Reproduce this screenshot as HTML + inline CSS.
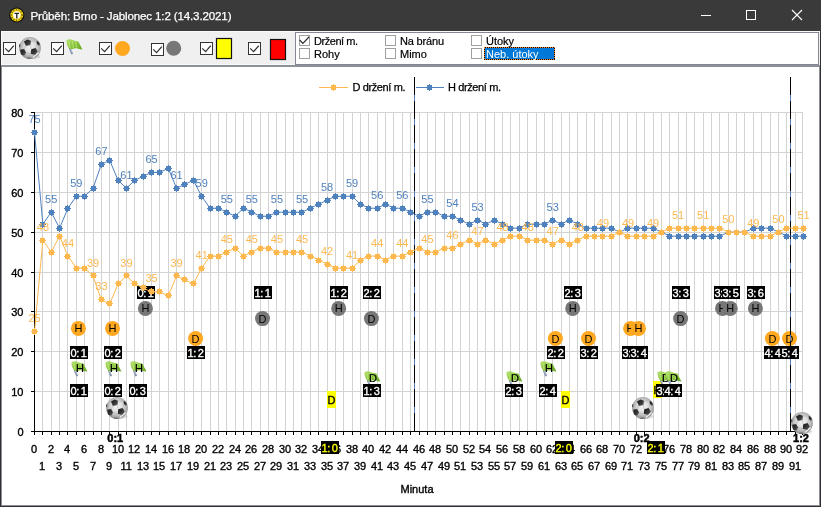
<!DOCTYPE html><html><head><meta charset="utf-8"><title>Průběh</title><style>
html,body{margin:0;padding:0;width:821px;height:507px;overflow:hidden;background:#fff}
svg{display:block} text{font-family:'Liberation Sans',Arial,sans-serif}
</style></head><body>
<svg width="821" height="507" viewBox="0 0 821 507">
<defs>
<radialGradient id="bg" cx="0.5" cy="0.45" r="0.6">
<stop offset="0" stop-color="#f4f4f4"/><stop offset="0.45" stop-color="#dcdcdc"/><stop offset="0.8" stop-color="#a4a4a4"/><stop offset="1" stop-color="#767676"/></radialGradient>
<linearGradient id="pg" x1="0" y1="0" x2="1" y2="1"><stop offset="0" stop-color="#141414"/><stop offset="0.6" stop-color="#3a3a3a"/><stop offset="1" stop-color="#6a6a6a"/></linearGradient>
<linearGradient id="fg" x1="0" y1="0" x2="1" y2="1">
<stop offset="0" stop-color="#b4e070"/><stop offset="0.5" stop-color="#8cc640"/><stop offset="1" stop-color="#66a424"/></linearGradient>
<symbol id="ball" viewBox="0 0 22 22" overflow="visible">
<ellipse cx="13.5" cy="19.5" rx="8" ry="2.6" fill="#000" opacity="0.13"/>
<circle cx="11" cy="11" r="10.9" fill="url(#bg)"/>
<path d="M5 4.6 L8.5 2.4 L12 3.8 L11.4 7.9 L6.9 8.9 Z" fill="url(#pg)"/>
<path d="M17.6 4.1 L19.9 4.9 L21.2 7.8 L19.6 8.8 L17.9 7.1 Z" fill="url(#pg)"/>
<path d="M12.2 12.2 L16.7 10.9 L18.7 14.5 L16.3 18.1 L11.8 16.8 Z" fill="url(#pg)"/>
<path d="M1.2 12.8 L5.1 12.1 L7.1 15.5 L5.2 18.8 L2 17.4 Z" fill="url(#pg)"/>
<path d="M0.1 7.4 L1.3 7.1 L1.3 10 L0.1 10.3 Z" fill="#4a4a4a"/>
<path d="M7.6 20.6 L11.6 20.4 L12.2 21.8 L8.2 21.7 Z" fill="#6a6a6a"/>
<path d="M11.1 7.6 L12.4 12.4 M7 8.5 L5 12.3 M11.7 3.9 L17.6 4.1 M17.9 7.1 L16.5 11.2 M12 16.6 L7.6 20.6 M6.9 15.5 L12 16.6 M16.1 17.8 L15.6 21" stroke="#b0b0b0" stroke-width="0.6" fill="none"/>
<path d="M13.8 20.6 L19.6 15.6" stroke="#ffffff" stroke-width="1.1" opacity="0.9"/>
</symbol>
<symbol id="flag" viewBox="0 0 17 16" overflow="visible">
<path d="M3.9 9.6 L5.9 14.4" stroke="#7a88a8" stroke-width="1.9" stroke-linecap="round"/>
<path d="M4.2 10 L5.8 13.6" stroke="#d8dff0" stroke-width="0.6"/>
<path d="M0.4 1.8 C1.2 0.2 4.2 -0.2 7.2 1.2 C9 2 10.8 2.2 12.4 2.4 L16.4 10.4 C14.2 10.6 12.4 9.4 10.2 9.2 C8 9.2 6 10.4 3.4 9.8 C1.6 7.6 0.4 4.6 0.4 1.8 Z" fill="url(#fg)"/>
<path d="M2.6 1.6 C3.2 4 3.6 6.4 4.2 9 M6.4 1.8 C6.8 4.2 7 6.4 7.4 9.2 M9.6 2.4 C10 4.6 10.4 6.6 11 9.2" stroke="#c9ef86" stroke-width="0.9" fill="none" opacity="0.75"/>
</symbol>
</defs>
<rect x="0" y="0" width="821" height="31" fill="#3a3a3a"/>
<circle cx="16.8" cy="15" r="7.6" fill="#0c0c0c"/><circle cx="16.8" cy="15" r="6.5" fill="#f2d60c"/>
<circle cx="16.8" cy="15" r="5.3" fill="none" stroke="#3a3000" stroke-width="1.3" stroke-dasharray="1.1 1.5" opacity="0.75"/>
<circle cx="16.8" cy="15" r="3.7" fill="#fff"/><path d="M14.5 12.7 H19.1 V14.1 H17.5 V18.4 H16.1 V14.1 H14.5 Z" fill="#2a2a2a"/>
<text x="30.5" y="20" font-size="11.6" fill="#ffffff" stroke="#fff" stroke-width="0.25" textLength="201" lengthAdjust="spacing">Průběh: Brno - Jablonec 1:2 (14.3.2021)</text>
<rect x="701" y="15" width="10" height="1" fill="#fff"/>
<rect x="746.5" y="10.5" width="9" height="9" fill="none" stroke="#fff" stroke-width="1"/>
<path d="M792 10 L802 20 M802 10 L792 20" stroke="#fff" stroke-width="1.1"/>
<rect x="0" y="31" width="821" height="35" fill="#f0f0f0"/>
<rect x="1" y="31" width="819" height="1" fill="#fbfbfb"/>
<rect x="1" y="31" width="1" height="34" fill="#fbfbfb"/>
<rect x="1" y="64" width="819" height="1" fill="#f9f9f9"/>
<rect x="3.5" y="42.5" width="12" height="12" fill="#fff" stroke="#333333" stroke-width="1"/><path d="M5.20 48.40 L8.60 51.60 L13.80 45.60" fill="none" stroke="#333" stroke-width="1.3"/>
<rect x="51.5" y="42.5" width="12" height="12" fill="#fff" stroke="#333333" stroke-width="1"/><path d="M53.20 48.40 L56.60 51.60 L61.80 45.60" fill="none" stroke="#333" stroke-width="1.3"/>
<rect x="99.5" y="42.5" width="12" height="12" fill="#fff" stroke="#333333" stroke-width="1"/><path d="M101.20 48.40 L104.60 51.60 L109.80 45.60" fill="none" stroke="#333" stroke-width="1.3"/>
<rect x="151.5" y="43.5" width="12" height="12" fill="#fff" stroke="#333333" stroke-width="1"/><path d="M153.20 49.40 L156.60 52.60 L161.80 46.60" fill="none" stroke="#333" stroke-width="1.3"/>
<rect x="200.5" y="42.5" width="12" height="12" fill="#fff" stroke="#333333" stroke-width="1"/><path d="M202.20 48.40 L205.60 51.60 L210.80 45.60" fill="none" stroke="#333" stroke-width="1.3"/>
<rect x="248.5" y="42.5" width="12" height="12" fill="#fff" stroke="#333333" stroke-width="1"/><path d="M250.20 48.40 L253.60 51.60 L258.80 45.60" fill="none" stroke="#333" stroke-width="1.3"/>
<use href="#ball" x="19" y="37" width="22" height="22"/>
<use href="#flag" x="66" y="39" width="17" height="16"/>
<circle cx="122.5" cy="48.5" r="7.5" fill="#ffa820"/>
<circle cx="173.7" cy="48.3" r="7.5" fill="#777777"/>
<rect x="216.5" y="38.5" width="15" height="20" fill="#ffff00" stroke="#111" stroke-width="1.2"/>
<rect x="270.5" y="39.5" width="15" height="20" fill="#ff0000" stroke="#111" stroke-width="1.2"/>
<rect x="295.5" y="32.5" width="523" height="32" fill="#fff" stroke="#828790" stroke-width="1"/>
<rect x="299.5" y="35.5" width="10" height="10" fill="#fff" stroke="#a0a0a0" stroke-width="1"/><path d="M299.60 40.00 L302.90 43.40 L309.20 36.80" fill="none" stroke="#333" stroke-width="1.3"/>
<text x="314" y="45" font-size="11" fill="#000" stroke="#000" stroke-width="0.2" textLength="44">Držení m.</text>
<rect x="299.5" y="48.5" width="10" height="10" fill="#fff" stroke="#a0a0a0" stroke-width="1"/>
<text x="314" y="58" font-size="11" fill="#000" stroke="#000" stroke-width="0.2">Rohy</text>
<rect x="385.5" y="35.5" width="10" height="10" fill="#fff" stroke="#a0a0a0" stroke-width="1"/>
<text x="400" y="45" font-size="11" fill="#000" stroke="#000" stroke-width="0.2" textLength="44">Na bránu</text>
<rect x="385.5" y="48.5" width="10" height="10" fill="#fff" stroke="#a0a0a0" stroke-width="1"/>
<text x="400" y="58" font-size="11" fill="#000" stroke="#000" stroke-width="0.2">Mimo</text>
<rect x="471.5" y="35.5" width="10" height="10" fill="#fff" stroke="#a0a0a0" stroke-width="1"/>
<text x="486" y="45" font-size="11" fill="#000" stroke="#000" stroke-width="0.2">Útoky</text>
<rect x="471.5" y="48.5" width="10" height="10" fill="#fff" stroke="#a0a0a0" stroke-width="1"/>
<rect x="484" y="47" width="71" height="13" fill="#0078d7"/>
<rect x="484.5" y="47.5" width="70" height="12" fill="none" stroke="#ff8a28" stroke-width="1" shape-rendering="crispEdges"/>
<rect x="484.5" y="47.5" width="70" height="12" fill="none" stroke="#000" stroke-width="1" stroke-dasharray="1 1" shape-rendering="crispEdges"/>
<text x="486" y="58" font-size="11" fill="#fff">Neb. útoky</text>
<rect x="1" y="65" width="819" height="441" fill="#8c9199"/>
<rect x="2" y="67" width="817" height="438" fill="#fff"/>
<rect x="0" y="31" width="1" height="476" fill="#2f2f2f"/>
<rect x="820" y="31" width="1" height="476" fill="#2f2f2f"/>
<rect x="0" y="506" width="821" height="1" fill="#2f2f2f"/>
<path d="M42.5 112V431 M51.5 112V431 M59.5 112V431 M67.5 112V431 M76.5 112V431 M84.5 112V431 M93.5 112V431 M101.5 112V431 M109.5 112V431 M118.5 112V431 M126.5 112V431 M134.5 112V431 M143.5 112V431 M151.5 112V431 M159.5 112V431 M168.5 112V431 M176.5 112V431 M184.5 112V431 M193.5 112V431 M201.5 112V431 M210.5 112V431 M218.5 112V431 M226.5 112V431 M235.5 112V431 M243.5 112V431 M251.5 112V431 M260.5 112V431 M268.5 112V431 M276.5 112V431 M285.5 112V431 M293.5 112V431 M301.5 112V431 M310.5 112V431 M318.5 112V431 M327.5 112V431 M335.5 112V431 M343.5 112V431 M352.5 112V431 M360.5 112V431 M368.5 112V431 M377.5 112V431 M385.5 112V431 M393.5 112V431 M402.5 112V431 M410.5 112V431 M419.5 112V431 M427.5 112V431 M435.5 112V431 M444.5 112V431 M452.5 112V431 M460.5 112V431 M469.5 112V431 M477.5 112V431 M485.5 112V431 M494.5 112V431 M502.5 112V431 M510.5 112V431 M519.5 112V431 M527.5 112V431 M536.5 112V431 M544.5 112V431 M552.5 112V431 M561.5 112V431 M569.5 112V431 M577.5 112V431 M586.5 112V431 M594.5 112V431 M602.5 112V431 M611.5 112V431 M619.5 112V431 M627.5 112V431 M636.5 112V431 M644.5 112V431 M653.5 112V431 M661.5 112V431 M669.5 112V431 M678.5 112V431 M686.5 112V431 M694.5 112V431 M703.5 112V431 M711.5 112V431 M719.5 112V431 M728.5 112V431 M736.5 112V431 M744.5 112V431 M753.5 112V431 M761.5 112V431 M770.5 112V431 M778.5 112V431 M786.5 112V431 M795.5 112V431 M802.5 112V431 M35 391.5H803 M35 351.5H803 M35 311.5H803 M35 272.5H803 M35 232.5H803 M35 192.5H803 M35 152.5H803 M35 112.5H803" stroke="#d3d3d3" stroke-width="1" fill="none" shape-rendering="crispEdges"/>
<path d="M319 87.5H348" stroke="#fdb850" stroke-width="1"/>
<path d="M416 87.5H444" stroke="#4f81bd" stroke-width="1"/>
<path d="M330.00 87.00 L331.00 87.00 L331.00 85.00 L333.00 85.00 L333.00 84.00 L334.00 84.00 L334.00 85.00 L336.00 85.00 L336.00 87.00 L337.00 87.00 L337.00 88.00 L336.00 88.00 L336.00 90.00 L334.00 90.00 L334.00 91.00 L333.00 91.00 L333.00 90.00 L331.00 90.00 L331.00 88.00 L330.00 88.00 Z" fill="#fdb850"/>
<path d="M426.00 87.00 L427.00 87.00 L427.00 85.00 L429.00 85.00 L429.00 84.00 L430.00 84.00 L430.00 85.00 L432.00 85.00 L432.00 87.00 L433.00 87.00 L433.00 88.00 L432.00 88.00 L432.00 90.00 L430.00 90.00 L430.00 91.00 L429.00 91.00 L429.00 90.00 L427.00 90.00 L427.00 88.00 L426.00 88.00 Z" fill="#4f81bd"/>
<text x="352.5" y="91" font-size="11" fill="#000" stroke="#000" stroke-width="0.25" textLength="53" lengthAdjust="spacing">D držení m.</text>
<text x="448" y="91" font-size="11" fill="#000" stroke="#000" stroke-width="0.25" textLength="53" lengthAdjust="spacing">H držení m.</text>
<rect x="327.0" y="391" width="9" height="17" fill="#ffff00"/><text x="331.5" y="404" font-size="11" fill="#000" stroke="#000" stroke-width="0.35" text-anchor="middle">D</text><rect x="561.0" y="391" width="9" height="17" fill="#ffff00"/><text x="565.5" y="404" font-size="11" fill="#000" stroke="#000" stroke-width="0.35" text-anchor="middle">D</text><rect x="653.0" y="381" width="9" height="17" fill="#ffff00"/><text x="657.5" y="394" font-size="11" fill="#000" stroke="#000" stroke-width="0.35" text-anchor="middle">H</text><circle cx="145.4" cy="308.4" r="7.5" fill="#777777"/><text x="145.4" y="312.4" font-size="11" fill="#000" text-anchor="middle">H</text><rect x="137" y="286" width="18" height="13" fill="#000"/><text x="137.6 143.2 147.8" y="297" font-size="11" fill="#fff" stroke="#fff" stroke-width="0.35">0:1</text><circle cx="262.5" cy="318.6" r="7.5" fill="#777777"/><text x="262.5" y="322.6" font-size="11" fill="#000" text-anchor="middle">D</text><rect x="254" y="286" width="18" height="13" fill="#000"/><text x="254.6 260.2 264.8" y="297" font-size="11" fill="#fff" stroke="#fff" stroke-width="0.35">1:1</text><circle cx="338.7" cy="308.4" r="7.5" fill="#777777"/><text x="338.7" y="312.4" font-size="11" fill="#000" text-anchor="middle">H</text><rect x="330" y="286" width="18" height="13" fill="#000"/><text x="330.6 336.2 340.8" y="297" font-size="11" fill="#fff" stroke="#fff" stroke-width="0.35">1:2</text><circle cx="371.4" cy="318.6" r="7.5" fill="#777777"/><text x="371.4" y="322.6" font-size="11" fill="#000" text-anchor="middle">D</text><rect x="363" y="286" width="18" height="13" fill="#000"/><text x="363.6 369.2 373.8" y="297" font-size="11" fill="#fff" stroke="#fff" stroke-width="0.35">2:2</text><circle cx="572.7" cy="308.4" r="7.5" fill="#777777"/><text x="572.7" y="312.4" font-size="11" fill="#000" text-anchor="middle">H</text><rect x="564" y="286" width="18" height="13" fill="#000"/><text x="564.6 570.2 574.8" y="297" font-size="11" fill="#fff" stroke="#fff" stroke-width="0.35">2:3</text><circle cx="680.6" cy="318.6" r="7.5" fill="#777777"/><text x="680.6" y="322.6" font-size="11" fill="#000" text-anchor="middle">D</text><rect x="672" y="286" width="18" height="13" fill="#000"/><text x="672.6 678.2 682.8" y="297" font-size="11" fill="#fff" stroke="#fff" stroke-width="0.35">3:3</text><circle cx="722.5" cy="308.4" r="7.5" fill="#777777"/><text x="722.5" y="312.4" font-size="11" fill="#000" text-anchor="middle">H</text><rect x="714" y="286" width="18" height="13" fill="#000"/><text x="714.6 720.2 724.8" y="297" font-size="11" fill="#fff" stroke="#fff" stroke-width="0.35">3:4</text><circle cx="730.3" cy="308.4" r="7.5" fill="#777777"/><text x="730.3" y="312.4" font-size="11" fill="#000" text-anchor="middle">H</text><rect x="722" y="286" width="18" height="13" fill="#000"/><text x="722.6 728.2 732.8" y="297" font-size="11" fill="#fff" stroke="#fff" stroke-width="0.35">3:5</text><circle cx="755.4" cy="308.4" r="7.5" fill="#777777"/><text x="755.4" y="312.4" font-size="11" fill="#000" text-anchor="middle">H</text><rect x="747" y="286" width="18" height="13" fill="#000"/><text x="747.6 753.2 757.8" y="297" font-size="11" fill="#fff" stroke="#fff" stroke-width="0.35">3:6</text><circle cx="78.4" cy="328.4" r="7.5" fill="#ffa820"/><text x="78.4" y="332.4" font-size="11" fill="#000" text-anchor="middle">H</text><rect x="70" y="346" width="18" height="13" fill="#000"/><text x="70.6 76.2 80.8" y="357" font-size="11" fill="#fff" stroke="#fff" stroke-width="0.35">0:1</text><circle cx="112.5" cy="328.4" r="7.5" fill="#ffa820"/><text x="112.5" y="332.4" font-size="11" fill="#000" text-anchor="middle">H</text><rect x="104" y="346" width="18" height="13" fill="#000"/><text x="104.6 110.2 114.8" y="357" font-size="11" fill="#fff" stroke="#fff" stroke-width="0.35">0:2</text><circle cx="195.6" cy="338.5" r="7.5" fill="#ffa820"/><text x="195.6" y="342.5" font-size="11" fill="#000" text-anchor="middle">D</text><rect x="187" y="346" width="18" height="13" fill="#000"/><text x="187.6 193.2 197.8" y="357" font-size="11" fill="#fff" stroke="#fff" stroke-width="0.35">1:2</text><circle cx="555.4" cy="338.5" r="7.5" fill="#ffa820"/><text x="555.4" y="342.5" font-size="11" fill="#000" text-anchor="middle">D</text><rect x="547" y="346" width="18" height="13" fill="#000"/><text x="547.6 553.2 557.8" y="357" font-size="11" fill="#fff" stroke="#fff" stroke-width="0.35">2:2</text><circle cx="588.5" cy="338.5" r="7.5" fill="#ffa820"/><text x="588.5" y="342.5" font-size="11" fill="#000" text-anchor="middle">D</text><rect x="580" y="346" width="18" height="13" fill="#000"/><text x="580.6 586.2 590.8" y="357" font-size="11" fill="#fff" stroke="#fff" stroke-width="0.35">3:2</text><circle cx="630.6" cy="328.4" r="7.5" fill="#ffa820"/><text x="630.6" y="332.4" font-size="11" fill="#000" text-anchor="middle">H</text><rect x="622" y="346" width="18" height="13" fill="#000"/><text x="622.6 628.2 632.8" y="357" font-size="11" fill="#fff" stroke="#fff" stroke-width="0.35">3:3</text><circle cx="638.5" cy="328.4" r="7.5" fill="#ffa820"/><text x="638.5" y="332.4" font-size="11" fill="#000" text-anchor="middle">H</text><rect x="630" y="346" width="18" height="13" fill="#000"/><text x="630.6 636.2 640.8" y="357" font-size="11" fill="#fff" stroke="#fff" stroke-width="0.35">3:4</text><circle cx="772.4" cy="338.5" r="7.5" fill="#ffa820"/><text x="772.4" y="342.5" font-size="11" fill="#000" text-anchor="middle">D</text><rect x="764" y="346" width="18" height="13" fill="#000"/><text x="764.6 770.2 774.8" y="357" font-size="11" fill="#fff" stroke="#fff" stroke-width="0.35">4:4</text><circle cx="789.5" cy="338.5" r="7.5" fill="#ffa820"/><text x="789.5" y="342.5" font-size="11" fill="#000" text-anchor="middle">D</text><rect x="781" y="346" width="18" height="13" fill="#000"/><text x="781.6 787.2 791.8" y="357" font-size="11" fill="#fff" stroke="#fff" stroke-width="0.35">5:4</text><use href="#flag" x="71" y="361" width="17" height="16"/><text x="80" y="371.8" font-size="11" fill="#000" stroke="#000" stroke-width="0.2" text-anchor="middle">H</text><rect x="70" y="384" width="18" height="13" fill="#000"/><text x="70.6 76.2 80.8" y="395" font-size="11" fill="#fff" stroke="#fff" stroke-width="0.35">0:1</text><use href="#flag" x="105" y="361" width="17" height="16"/><text x="114" y="371.8" font-size="11" fill="#000" stroke="#000" stroke-width="0.2" text-anchor="middle">H</text><rect x="104" y="384" width="18" height="13" fill="#000"/><text x="104.6 110.2 114.8" y="395" font-size="11" fill="#fff" stroke="#fff" stroke-width="0.35">0:2</text><use href="#flag" x="130" y="361" width="17" height="16"/><text x="139" y="371.8" font-size="11" fill="#000" stroke="#000" stroke-width="0.2" text-anchor="middle">H</text><rect x="129" y="384" width="18" height="13" fill="#000"/><text x="129.6 135.2 139.8" y="395" font-size="11" fill="#fff" stroke="#fff" stroke-width="0.35">0:3</text><use href="#flag" x="364" y="371" width="17" height="16"/><text x="373" y="381.8" font-size="11" fill="#000" stroke="#000" stroke-width="0.2" text-anchor="middle">D</text><rect x="363" y="384" width="18" height="13" fill="#000"/><text x="363.6 369.2 373.8" y="395" font-size="11" fill="#fff" stroke="#fff" stroke-width="0.35">1:3</text><use href="#flag" x="506" y="371" width="17" height="16"/><text x="515" y="381.8" font-size="11" fill="#000" stroke="#000" stroke-width="0.2" text-anchor="middle">D</text><rect x="505" y="384" width="18" height="13" fill="#000"/><text x="505.6 511.2 515.8" y="395" font-size="11" fill="#fff" stroke="#fff" stroke-width="0.35">2:3</text><use href="#flag" x="540" y="361" width="17" height="16"/><text x="549" y="371.8" font-size="11" fill="#000" stroke="#000" stroke-width="0.2" text-anchor="middle">H</text><rect x="539" y="384" width="18" height="13" fill="#000"/><text x="539.6 545.2 549.8" y="395" font-size="11" fill="#fff" stroke="#fff" stroke-width="0.35">2:4</text><use href="#flag" x="657" y="371" width="17" height="16"/><text x="666" y="381.8" font-size="11" fill="#000" stroke="#000" stroke-width="0.2" text-anchor="middle">D</text><rect x="656" y="384" width="18" height="13" fill="#000"/><text x="656.6 662.2 666.8" y="395" font-size="11" fill="#fff" stroke="#fff" stroke-width="0.35">3:4</text><use href="#flag" x="665" y="371" width="17" height="16"/><text x="674" y="381.8" font-size="11" fill="#000" stroke="#000" stroke-width="0.2" text-anchor="middle">D</text><rect x="664" y="384" width="18" height="13" fill="#000"/><text x="664.6 670.2 674.8" y="395" font-size="11" fill="#fff" stroke="#fff" stroke-width="0.35">4:4</text>
<path d="M414.5 77V431" stroke="#4f81bd" stroke-width="1" shape-rendering="crispEdges"/>
<path d="M414.5 77V431" stroke="#000" stroke-width="1" stroke-dasharray="18 6" shape-rendering="crispEdges"/>
<path d="M790.5 77V431" stroke="#4f81bd" stroke-width="1" shape-rendering="crispEdges"/>
<path d="M790.5 77V431" stroke="#000" stroke-width="1" stroke-dasharray="18 6" shape-rendering="crispEdges"/>
<path d="M31 431.5H803 M34.5 112V432 M31 431.5H34 M31 391.5H34 M31 351.5H34 M31 311.5H34 M31 272.5H34 M31 232.5H34 M31 192.5H34 M31 152.5H34 M31 112.5H34 M34.5 432V435 M42.5 432V435 M51.5 432V435 M59.5 432V435 M67.5 432V435 M76.5 432V435 M84.5 432V435 M93.5 432V435 M101.5 432V435 M109.5 432V435 M118.5 432V435 M126.5 432V435 M134.5 432V435 M143.5 432V435 M151.5 432V435 M159.5 432V435 M168.5 432V435 M176.5 432V435 M184.5 432V435 M193.5 432V435 M201.5 432V435 M210.5 432V435 M218.5 432V435 M226.5 432V435 M235.5 432V435 M243.5 432V435 M251.5 432V435 M260.5 432V435 M268.5 432V435 M276.5 432V435 M285.5 432V435 M293.5 432V435 M301.5 432V435 M310.5 432V435 M318.5 432V435 M327.5 432V435 M335.5 432V435 M343.5 432V435 M352.5 432V435 M360.5 432V435 M368.5 432V435 M377.5 432V435 M385.5 432V435 M393.5 432V435 M402.5 432V435 M410.5 432V435 M419.5 432V435 M427.5 432V435 M435.5 432V435 M444.5 432V435 M452.5 432V435 M460.5 432V435 M469.5 432V435 M477.5 432V435 M485.5 432V435 M494.5 432V435 M502.5 432V435 M510.5 432V435 M519.5 432V435 M527.5 432V435 M536.5 432V435 M544.5 432V435 M552.5 432V435 M561.5 432V435 M569.5 432V435 M577.5 432V435 M586.5 432V435 M594.5 432V435 M602.5 432V435 M611.5 432V435 M619.5 432V435 M627.5 432V435 M636.5 432V435 M644.5 432V435 M653.5 432V435 M661.5 432V435 M669.5 432V435 M678.5 432V435 M686.5 432V435 M694.5 432V435 M703.5 432V435 M711.5 432V435 M719.5 432V435 M728.5 432V435 M736.5 432V435 M744.5 432V435 M753.5 432V435 M761.5 432V435 M770.5 432V435 M778.5 432V435 M786.5 432V435 M795.5 432V435 M802.5 432V435" stroke="#000" stroke-width="1" fill="none" shape-rendering="crispEdges"/>
<text x="23.5" y="436" font-size="11" fill="#000" stroke="#000" stroke-width="0.35" text-anchor="end">0</text><text x="23.5" y="396" font-size="11" fill="#000" stroke="#000" stroke-width="0.35" text-anchor="end">10</text><text x="23.5" y="356" font-size="11" fill="#000" stroke="#000" stroke-width="0.35" text-anchor="end">20</text><text x="23.5" y="316" font-size="11" fill="#000" stroke="#000" stroke-width="0.35" text-anchor="end">30</text><text x="23.5" y="277" font-size="11" fill="#000" stroke="#000" stroke-width="0.35" text-anchor="end">40</text><text x="23.5" y="237" font-size="11" fill="#000" stroke="#000" stroke-width="0.35" text-anchor="end">50</text><text x="23.5" y="197" font-size="11" fill="#000" stroke="#000" stroke-width="0.35" text-anchor="end">60</text><text x="23.5" y="157" font-size="11" fill="#000" stroke="#000" stroke-width="0.35" text-anchor="end">70</text><text x="23.5" y="117" font-size="11" fill="#000" stroke="#000" stroke-width="0.35" text-anchor="end">80</text><text x="34.1" y="453" font-size="11" fill="#000" stroke="#000" stroke-width="0.35" text-anchor="middle">0</text><text x="42.1" y="470" font-size="11" fill="#000" stroke="#000" stroke-width="0.35" text-anchor="middle">1</text><text x="51.1" y="453" font-size="11" fill="#000" stroke="#000" stroke-width="0.35" text-anchor="middle">2</text><text x="59.1" y="470" font-size="11" fill="#000" stroke="#000" stroke-width="0.35" text-anchor="middle">3</text><text x="67.1" y="453" font-size="11" fill="#000" stroke="#000" stroke-width="0.35" text-anchor="middle">4</text><text x="76.1" y="470" font-size="11" fill="#000" stroke="#000" stroke-width="0.35" text-anchor="middle">5</text><text x="84.1" y="453" font-size="11" fill="#000" stroke="#000" stroke-width="0.35" text-anchor="middle">6</text><text x="93.1" y="470" font-size="11" fill="#000" stroke="#000" stroke-width="0.35" text-anchor="middle">7</text><text x="101.1" y="453" font-size="11" fill="#000" stroke="#000" stroke-width="0.35" text-anchor="middle">8</text><text x="109.1" y="470" font-size="11" fill="#000" stroke="#000" stroke-width="0.35" text-anchor="middle">9</text><text x="118.1" y="453" font-size="11" fill="#000" stroke="#000" stroke-width="0.35" text-anchor="middle">10</text><text x="126.1" y="470" font-size="11" fill="#000" stroke="#000" stroke-width="0.35" text-anchor="middle">11</text><text x="134.1" y="453" font-size="11" fill="#000" stroke="#000" stroke-width="0.35" text-anchor="middle">12</text><text x="143.1" y="470" font-size="11" fill="#000" stroke="#000" stroke-width="0.35" text-anchor="middle">13</text><text x="151.1" y="453" font-size="11" fill="#000" stroke="#000" stroke-width="0.35" text-anchor="middle">14</text><text x="159.1" y="470" font-size="11" fill="#000" stroke="#000" stroke-width="0.35" text-anchor="middle">15</text><text x="168.1" y="453" font-size="11" fill="#000" stroke="#000" stroke-width="0.35" text-anchor="middle">16</text><text x="176.1" y="470" font-size="11" fill="#000" stroke="#000" stroke-width="0.35" text-anchor="middle">17</text><text x="184.1" y="453" font-size="11" fill="#000" stroke="#000" stroke-width="0.35" text-anchor="middle">18</text><text x="193.1" y="470" font-size="11" fill="#000" stroke="#000" stroke-width="0.35" text-anchor="middle">19</text><text x="201.1" y="453" font-size="11" fill="#000" stroke="#000" stroke-width="0.35" text-anchor="middle">20</text><text x="210.1" y="470" font-size="11" fill="#000" stroke="#000" stroke-width="0.35" text-anchor="middle">21</text><text x="218.1" y="453" font-size="11" fill="#000" stroke="#000" stroke-width="0.35" text-anchor="middle">22</text><text x="226.1" y="470" font-size="11" fill="#000" stroke="#000" stroke-width="0.35" text-anchor="middle">23</text><text x="235.1" y="453" font-size="11" fill="#000" stroke="#000" stroke-width="0.35" text-anchor="middle">24</text><text x="243.1" y="470" font-size="11" fill="#000" stroke="#000" stroke-width="0.35" text-anchor="middle">25</text><text x="251.1" y="453" font-size="11" fill="#000" stroke="#000" stroke-width="0.35" text-anchor="middle">26</text><text x="260.1" y="470" font-size="11" fill="#000" stroke="#000" stroke-width="0.35" text-anchor="middle">27</text><text x="268.1" y="453" font-size="11" fill="#000" stroke="#000" stroke-width="0.35" text-anchor="middle">28</text><text x="276.1" y="470" font-size="11" fill="#000" stroke="#000" stroke-width="0.35" text-anchor="middle">29</text><text x="285.1" y="453" font-size="11" fill="#000" stroke="#000" stroke-width="0.35" text-anchor="middle">30</text><text x="293.1" y="470" font-size="11" fill="#000" stroke="#000" stroke-width="0.35" text-anchor="middle">31</text><text x="301.1" y="453" font-size="11" fill="#000" stroke="#000" stroke-width="0.35" text-anchor="middle">32</text><text x="310.1" y="470" font-size="11" fill="#000" stroke="#000" stroke-width="0.35" text-anchor="middle">33</text><text x="318.1" y="453" font-size="11" fill="#000" stroke="#000" stroke-width="0.35" text-anchor="middle">34</text><text x="327.1" y="470" font-size="11" fill="#000" stroke="#000" stroke-width="0.35" text-anchor="middle">35</text><text x="335.1" y="453" font-size="11" fill="#000" stroke="#000" stroke-width="0.35" text-anchor="middle">36</text><text x="343.1" y="470" font-size="11" fill="#000" stroke="#000" stroke-width="0.35" text-anchor="middle">37</text><text x="352.1" y="453" font-size="11" fill="#000" stroke="#000" stroke-width="0.35" text-anchor="middle">38</text><text x="360.1" y="470" font-size="11" fill="#000" stroke="#000" stroke-width="0.35" text-anchor="middle">39</text><text x="368.1" y="453" font-size="11" fill="#000" stroke="#000" stroke-width="0.35" text-anchor="middle">40</text><text x="377.1" y="470" font-size="11" fill="#000" stroke="#000" stroke-width="0.35" text-anchor="middle">41</text><text x="385.1" y="453" font-size="11" fill="#000" stroke="#000" stroke-width="0.35" text-anchor="middle">42</text><text x="393.1" y="470" font-size="11" fill="#000" stroke="#000" stroke-width="0.35" text-anchor="middle">43</text><text x="402.1" y="453" font-size="11" fill="#000" stroke="#000" stroke-width="0.35" text-anchor="middle">44</text><text x="410.1" y="470" font-size="11" fill="#000" stroke="#000" stroke-width="0.35" text-anchor="middle">45</text><text x="419.1" y="453" font-size="11" fill="#000" stroke="#000" stroke-width="0.35" text-anchor="middle">46</text><text x="427.1" y="470" font-size="11" fill="#000" stroke="#000" stroke-width="0.35" text-anchor="middle">47</text><text x="435.1" y="453" font-size="11" fill="#000" stroke="#000" stroke-width="0.35" text-anchor="middle">48</text><text x="444.1" y="470" font-size="11" fill="#000" stroke="#000" stroke-width="0.35" text-anchor="middle">49</text><text x="452.1" y="453" font-size="11" fill="#000" stroke="#000" stroke-width="0.35" text-anchor="middle">50</text><text x="460.1" y="470" font-size="11" fill="#000" stroke="#000" stroke-width="0.35" text-anchor="middle">51</text><text x="469.1" y="453" font-size="11" fill="#000" stroke="#000" stroke-width="0.35" text-anchor="middle">52</text><text x="477.1" y="470" font-size="11" fill="#000" stroke="#000" stroke-width="0.35" text-anchor="middle">53</text><text x="485.1" y="453" font-size="11" fill="#000" stroke="#000" stroke-width="0.35" text-anchor="middle">54</text><text x="494.1" y="470" font-size="11" fill="#000" stroke="#000" stroke-width="0.35" text-anchor="middle">55</text><text x="502.1" y="453" font-size="11" fill="#000" stroke="#000" stroke-width="0.35" text-anchor="middle">56</text><text x="510.1" y="470" font-size="11" fill="#000" stroke="#000" stroke-width="0.35" text-anchor="middle">57</text><text x="519.1" y="453" font-size="11" fill="#000" stroke="#000" stroke-width="0.35" text-anchor="middle">58</text><text x="527.1" y="470" font-size="11" fill="#000" stroke="#000" stroke-width="0.35" text-anchor="middle">59</text><text x="536.1" y="453" font-size="11" fill="#000" stroke="#000" stroke-width="0.35" text-anchor="middle">60</text><text x="544.1" y="470" font-size="11" fill="#000" stroke="#000" stroke-width="0.35" text-anchor="middle">61</text><text x="552.1" y="453" font-size="11" fill="#000" stroke="#000" stroke-width="0.35" text-anchor="middle">62</text><text x="561.1" y="470" font-size="11" fill="#000" stroke="#000" stroke-width="0.35" text-anchor="middle">63</text><text x="569.1" y="453" font-size="11" fill="#000" stroke="#000" stroke-width="0.35" text-anchor="middle">64</text><text x="577.1" y="470" font-size="11" fill="#000" stroke="#000" stroke-width="0.35" text-anchor="middle">65</text><text x="586.1" y="453" font-size="11" fill="#000" stroke="#000" stroke-width="0.35" text-anchor="middle">66</text><text x="594.1" y="470" font-size="11" fill="#000" stroke="#000" stroke-width="0.35" text-anchor="middle">67</text><text x="602.1" y="453" font-size="11" fill="#000" stroke="#000" stroke-width="0.35" text-anchor="middle">68</text><text x="611.1" y="470" font-size="11" fill="#000" stroke="#000" stroke-width="0.35" text-anchor="middle">69</text><text x="619.1" y="453" font-size="11" fill="#000" stroke="#000" stroke-width="0.35" text-anchor="middle">70</text><text x="627.1" y="470" font-size="11" fill="#000" stroke="#000" stroke-width="0.35" text-anchor="middle">71</text><text x="636.1" y="453" font-size="11" fill="#000" stroke="#000" stroke-width="0.35" text-anchor="middle">72</text><text x="644.1" y="470" font-size="11" fill="#000" stroke="#000" stroke-width="0.35" text-anchor="middle">73</text><text x="653.1" y="453" font-size="11" fill="#000" stroke="#000" stroke-width="0.35" text-anchor="middle">74</text><text x="661.1" y="470" font-size="11" fill="#000" stroke="#000" stroke-width="0.35" text-anchor="middle">75</text><text x="669.1" y="453" font-size="11" fill="#000" stroke="#000" stroke-width="0.35" text-anchor="middle">76</text><text x="678.1" y="470" font-size="11" fill="#000" stroke="#000" stroke-width="0.35" text-anchor="middle">77</text><text x="686.1" y="453" font-size="11" fill="#000" stroke="#000" stroke-width="0.35" text-anchor="middle">78</text><text x="694.1" y="470" font-size="11" fill="#000" stroke="#000" stroke-width="0.35" text-anchor="middle">79</text><text x="703.1" y="453" font-size="11" fill="#000" stroke="#000" stroke-width="0.35" text-anchor="middle">80</text><text x="711.1" y="470" font-size="11" fill="#000" stroke="#000" stroke-width="0.35" text-anchor="middle">81</text><text x="719.1" y="453" font-size="11" fill="#000" stroke="#000" stroke-width="0.35" text-anchor="middle">82</text><text x="728.1" y="470" font-size="11" fill="#000" stroke="#000" stroke-width="0.35" text-anchor="middle">83</text><text x="736.1" y="453" font-size="11" fill="#000" stroke="#000" stroke-width="0.35" text-anchor="middle">84</text><text x="744.1" y="470" font-size="11" fill="#000" stroke="#000" stroke-width="0.35" text-anchor="middle">85</text><text x="753.1" y="453" font-size="11" fill="#000" stroke="#000" stroke-width="0.35" text-anchor="middle">86</text><text x="761.1" y="470" font-size="11" fill="#000" stroke="#000" stroke-width="0.35" text-anchor="middle">87</text><text x="770.1" y="453" font-size="11" fill="#000" stroke="#000" stroke-width="0.35" text-anchor="middle">88</text><text x="778.1" y="470" font-size="11" fill="#000" stroke="#000" stroke-width="0.35" text-anchor="middle">89</text><text x="786.1" y="453" font-size="11" fill="#000" stroke="#000" stroke-width="0.35" text-anchor="middle">90</text><text x="795.1" y="470" font-size="11" fill="#000" stroke="#000" stroke-width="0.35" text-anchor="middle">91</text><text x="802.1" y="453" font-size="11" fill="#000" stroke="#000" stroke-width="0.35" text-anchor="middle">92</text>
<text x="417" y="493" font-size="11" fill="#000" stroke="#000" stroke-width="0.35" text-anchor="middle">Minuta</text>
<rect x="321" y="441" width="18" height="13" fill="#000"/><text x="321.6 327.2 331.8" y="452" font-size="11" fill="#ffff00" stroke="#ffff00" stroke-width="0.35">1:0</text>
<rect x="555" y="441" width="18" height="13" fill="#000"/><text x="555.6 561.2 565.8" y="452" font-size="11" fill="#ffff00" stroke="#ffff00" stroke-width="0.35">2:0</text>
<rect x="647" y="441" width="18" height="13" fill="#000"/><text x="647.6 653.2 657.8" y="452" font-size="11" fill="#ffff00" stroke="#ffff00" stroke-width="0.35">2:1</text>
<use href="#ball" x="106" y="397" width="22" height="22"/>
<text x="115.3" y="442" font-size="11" font-weight="bold" fill="#000" stroke="#000" stroke-width="0.5" text-anchor="middle">0:1</text>
<use href="#ball" x="632" y="397" width="22" height="22"/>
<text x="641.7" y="442" font-size="11" font-weight="bold" fill="#000" stroke="#000" stroke-width="0.5" text-anchor="middle">0:2</text>
<use href="#ball" x="791" y="412" width="22" height="22"/>
<text x="801" y="442" font-size="11" font-weight="bold" fill="#000" stroke="#000" stroke-width="0.5" text-anchor="middle">1:2</text>
<polyline points="34.50,132.44 42.86,224.15 51.22,212.19 59.58,228.14 67.93,208.20 76.29,196.24 84.65,196.24 93.01,188.26 101.37,164.34 109.73,160.35 118.09,180.29 126.45,188.26 134.80,180.29 143.16,176.30 151.52,172.31 159.88,172.31 168.24,168.32 176.60,188.26 184.96,184.28 193.32,180.29 201.67,196.24 210.03,208.20 218.39,208.20 226.75,212.19 235.11,216.18 243.47,208.20 251.83,212.19 260.18,216.18 268.54,216.18 276.90,212.19 285.26,212.19 293.62,212.19 301.98,212.19 310.34,208.20 318.70,204.21 327.05,200.23 335.41,196.24 343.77,196.24 352.13,196.24 360.49,204.21 368.85,208.20 377.21,208.20 385.57,204.21 393.92,208.20 402.28,208.20 410.64,212.19 419.00,216.18 427.36,212.19 435.72,212.19 444.08,216.18 452.44,216.18 460.79,220.16 469.15,224.15 477.51,220.16 485.87,224.15 494.23,220.16 502.59,224.15 510.95,228.14 519.30,228.14 527.66,224.15 536.02,224.15 544.38,224.15 552.74,220.16 561.10,224.15 569.46,220.16 577.82,224.15 586.17,228.14 594.53,228.14 602.89,228.14 611.25,228.14 619.61,232.12 627.97,228.14 636.33,228.14 644.69,228.14 653.04,228.14 661.40,232.12 669.76,236.11 678.12,236.11 686.48,236.11 694.84,236.11 703.20,236.11 711.55,236.11 719.91,236.11 728.27,232.12 736.63,232.12 744.99,232.12 753.35,228.14 761.71,228.14 770.07,228.14 778.42,232.12 786.78,236.11 795.14,236.11 803.50,236.11" fill="none" stroke="#4f81bd" stroke-width="1"/><path d="M31.00 132.00 L32.00 132.00 L32.00 130.00 L34.00 130.00 L34.00 129.00 L35.00 129.00 L35.00 130.00 L37.00 130.00 L37.00 132.00 L38.00 132.00 L38.00 133.00 L37.00 133.00 L37.00 135.00 L35.00 135.00 L35.00 136.00 L34.00 136.00 L34.00 135.00 L32.00 135.00 L32.00 133.00 L31.00 133.00 Z M39.00 224.00 L40.00 224.00 L40.00 222.00 L42.00 222.00 L42.00 221.00 L43.00 221.00 L43.00 222.00 L45.00 222.00 L45.00 224.00 L46.00 224.00 L46.00 225.00 L45.00 225.00 L45.00 227.00 L43.00 227.00 L43.00 228.00 L42.00 228.00 L42.00 227.00 L40.00 227.00 L40.00 225.00 L39.00 225.00 Z M48.00 212.00 L49.00 212.00 L49.00 210.00 L51.00 210.00 L51.00 209.00 L52.00 209.00 L52.00 210.00 L54.00 210.00 L54.00 212.00 L55.00 212.00 L55.00 213.00 L54.00 213.00 L54.00 215.00 L52.00 215.00 L52.00 216.00 L51.00 216.00 L51.00 215.00 L49.00 215.00 L49.00 213.00 L48.00 213.00 Z M56.00 228.00 L57.00 228.00 L57.00 226.00 L59.00 226.00 L59.00 225.00 L60.00 225.00 L60.00 226.00 L62.00 226.00 L62.00 228.00 L63.00 228.00 L63.00 229.00 L62.00 229.00 L62.00 231.00 L60.00 231.00 L60.00 232.00 L59.00 232.00 L59.00 231.00 L57.00 231.00 L57.00 229.00 L56.00 229.00 Z M64.00 208.00 L65.00 208.00 L65.00 206.00 L67.00 206.00 L67.00 205.00 L68.00 205.00 L68.00 206.00 L70.00 206.00 L70.00 208.00 L71.00 208.00 L71.00 209.00 L70.00 209.00 L70.00 211.00 L68.00 211.00 L68.00 212.00 L67.00 212.00 L67.00 211.00 L65.00 211.00 L65.00 209.00 L64.00 209.00 Z M73.00 196.00 L74.00 196.00 L74.00 194.00 L76.00 194.00 L76.00 193.00 L77.00 193.00 L77.00 194.00 L79.00 194.00 L79.00 196.00 L80.00 196.00 L80.00 197.00 L79.00 197.00 L79.00 199.00 L77.00 199.00 L77.00 200.00 L76.00 200.00 L76.00 199.00 L74.00 199.00 L74.00 197.00 L73.00 197.00 Z M81.00 196.00 L82.00 196.00 L82.00 194.00 L84.00 194.00 L84.00 193.00 L85.00 193.00 L85.00 194.00 L87.00 194.00 L87.00 196.00 L88.00 196.00 L88.00 197.00 L87.00 197.00 L87.00 199.00 L85.00 199.00 L85.00 200.00 L84.00 200.00 L84.00 199.00 L82.00 199.00 L82.00 197.00 L81.00 197.00 Z M90.00 188.00 L91.00 188.00 L91.00 186.00 L93.00 186.00 L93.00 185.00 L94.00 185.00 L94.00 186.00 L96.00 186.00 L96.00 188.00 L97.00 188.00 L97.00 189.00 L96.00 189.00 L96.00 191.00 L94.00 191.00 L94.00 192.00 L93.00 192.00 L93.00 191.00 L91.00 191.00 L91.00 189.00 L90.00 189.00 Z M98.00 164.00 L99.00 164.00 L99.00 162.00 L101.00 162.00 L101.00 161.00 L102.00 161.00 L102.00 162.00 L104.00 162.00 L104.00 164.00 L105.00 164.00 L105.00 165.00 L104.00 165.00 L104.00 167.00 L102.00 167.00 L102.00 168.00 L101.00 168.00 L101.00 167.00 L99.00 167.00 L99.00 165.00 L98.00 165.00 Z M106.00 160.00 L107.00 160.00 L107.00 158.00 L109.00 158.00 L109.00 157.00 L110.00 157.00 L110.00 158.00 L112.00 158.00 L112.00 160.00 L113.00 160.00 L113.00 161.00 L112.00 161.00 L112.00 163.00 L110.00 163.00 L110.00 164.00 L109.00 164.00 L109.00 163.00 L107.00 163.00 L107.00 161.00 L106.00 161.00 Z M115.00 180.00 L116.00 180.00 L116.00 178.00 L118.00 178.00 L118.00 177.00 L119.00 177.00 L119.00 178.00 L121.00 178.00 L121.00 180.00 L122.00 180.00 L122.00 181.00 L121.00 181.00 L121.00 183.00 L119.00 183.00 L119.00 184.00 L118.00 184.00 L118.00 183.00 L116.00 183.00 L116.00 181.00 L115.00 181.00 Z M123.00 188.00 L124.00 188.00 L124.00 186.00 L126.00 186.00 L126.00 185.00 L127.00 185.00 L127.00 186.00 L129.00 186.00 L129.00 188.00 L130.00 188.00 L130.00 189.00 L129.00 189.00 L129.00 191.00 L127.00 191.00 L127.00 192.00 L126.00 192.00 L126.00 191.00 L124.00 191.00 L124.00 189.00 L123.00 189.00 Z M131.00 180.00 L132.00 180.00 L132.00 178.00 L134.00 178.00 L134.00 177.00 L135.00 177.00 L135.00 178.00 L137.00 178.00 L137.00 180.00 L138.00 180.00 L138.00 181.00 L137.00 181.00 L137.00 183.00 L135.00 183.00 L135.00 184.00 L134.00 184.00 L134.00 183.00 L132.00 183.00 L132.00 181.00 L131.00 181.00 Z M140.00 176.00 L141.00 176.00 L141.00 174.00 L143.00 174.00 L143.00 173.00 L144.00 173.00 L144.00 174.00 L146.00 174.00 L146.00 176.00 L147.00 176.00 L147.00 177.00 L146.00 177.00 L146.00 179.00 L144.00 179.00 L144.00 180.00 L143.00 180.00 L143.00 179.00 L141.00 179.00 L141.00 177.00 L140.00 177.00 Z M148.00 172.00 L149.00 172.00 L149.00 170.00 L151.00 170.00 L151.00 169.00 L152.00 169.00 L152.00 170.00 L154.00 170.00 L154.00 172.00 L155.00 172.00 L155.00 173.00 L154.00 173.00 L154.00 175.00 L152.00 175.00 L152.00 176.00 L151.00 176.00 L151.00 175.00 L149.00 175.00 L149.00 173.00 L148.00 173.00 Z M156.00 172.00 L157.00 172.00 L157.00 170.00 L159.00 170.00 L159.00 169.00 L160.00 169.00 L160.00 170.00 L162.00 170.00 L162.00 172.00 L163.00 172.00 L163.00 173.00 L162.00 173.00 L162.00 175.00 L160.00 175.00 L160.00 176.00 L159.00 176.00 L159.00 175.00 L157.00 175.00 L157.00 173.00 L156.00 173.00 Z M165.00 168.00 L166.00 168.00 L166.00 166.00 L168.00 166.00 L168.00 165.00 L169.00 165.00 L169.00 166.00 L171.00 166.00 L171.00 168.00 L172.00 168.00 L172.00 169.00 L171.00 169.00 L171.00 171.00 L169.00 171.00 L169.00 172.00 L168.00 172.00 L168.00 171.00 L166.00 171.00 L166.00 169.00 L165.00 169.00 Z M173.00 188.00 L174.00 188.00 L174.00 186.00 L176.00 186.00 L176.00 185.00 L177.00 185.00 L177.00 186.00 L179.00 186.00 L179.00 188.00 L180.00 188.00 L180.00 189.00 L179.00 189.00 L179.00 191.00 L177.00 191.00 L177.00 192.00 L176.00 192.00 L176.00 191.00 L174.00 191.00 L174.00 189.00 L173.00 189.00 Z M181.00 184.00 L182.00 184.00 L182.00 182.00 L184.00 182.00 L184.00 181.00 L185.00 181.00 L185.00 182.00 L187.00 182.00 L187.00 184.00 L188.00 184.00 L188.00 185.00 L187.00 185.00 L187.00 187.00 L185.00 187.00 L185.00 188.00 L184.00 188.00 L184.00 187.00 L182.00 187.00 L182.00 185.00 L181.00 185.00 Z M190.00 180.00 L191.00 180.00 L191.00 178.00 L193.00 178.00 L193.00 177.00 L194.00 177.00 L194.00 178.00 L196.00 178.00 L196.00 180.00 L197.00 180.00 L197.00 181.00 L196.00 181.00 L196.00 183.00 L194.00 183.00 L194.00 184.00 L193.00 184.00 L193.00 183.00 L191.00 183.00 L191.00 181.00 L190.00 181.00 Z M198.00 196.00 L199.00 196.00 L199.00 194.00 L201.00 194.00 L201.00 193.00 L202.00 193.00 L202.00 194.00 L204.00 194.00 L204.00 196.00 L205.00 196.00 L205.00 197.00 L204.00 197.00 L204.00 199.00 L202.00 199.00 L202.00 200.00 L201.00 200.00 L201.00 199.00 L199.00 199.00 L199.00 197.00 L198.00 197.00 Z M207.00 208.00 L208.00 208.00 L208.00 206.00 L210.00 206.00 L210.00 205.00 L211.00 205.00 L211.00 206.00 L213.00 206.00 L213.00 208.00 L214.00 208.00 L214.00 209.00 L213.00 209.00 L213.00 211.00 L211.00 211.00 L211.00 212.00 L210.00 212.00 L210.00 211.00 L208.00 211.00 L208.00 209.00 L207.00 209.00 Z M215.00 208.00 L216.00 208.00 L216.00 206.00 L218.00 206.00 L218.00 205.00 L219.00 205.00 L219.00 206.00 L221.00 206.00 L221.00 208.00 L222.00 208.00 L222.00 209.00 L221.00 209.00 L221.00 211.00 L219.00 211.00 L219.00 212.00 L218.00 212.00 L218.00 211.00 L216.00 211.00 L216.00 209.00 L215.00 209.00 Z M223.00 212.00 L224.00 212.00 L224.00 210.00 L226.00 210.00 L226.00 209.00 L227.00 209.00 L227.00 210.00 L229.00 210.00 L229.00 212.00 L230.00 212.00 L230.00 213.00 L229.00 213.00 L229.00 215.00 L227.00 215.00 L227.00 216.00 L226.00 216.00 L226.00 215.00 L224.00 215.00 L224.00 213.00 L223.00 213.00 Z M232.00 216.00 L233.00 216.00 L233.00 214.00 L235.00 214.00 L235.00 213.00 L236.00 213.00 L236.00 214.00 L238.00 214.00 L238.00 216.00 L239.00 216.00 L239.00 217.00 L238.00 217.00 L238.00 219.00 L236.00 219.00 L236.00 220.00 L235.00 220.00 L235.00 219.00 L233.00 219.00 L233.00 217.00 L232.00 217.00 Z M240.00 208.00 L241.00 208.00 L241.00 206.00 L243.00 206.00 L243.00 205.00 L244.00 205.00 L244.00 206.00 L246.00 206.00 L246.00 208.00 L247.00 208.00 L247.00 209.00 L246.00 209.00 L246.00 211.00 L244.00 211.00 L244.00 212.00 L243.00 212.00 L243.00 211.00 L241.00 211.00 L241.00 209.00 L240.00 209.00 Z M248.00 212.00 L249.00 212.00 L249.00 210.00 L251.00 210.00 L251.00 209.00 L252.00 209.00 L252.00 210.00 L254.00 210.00 L254.00 212.00 L255.00 212.00 L255.00 213.00 L254.00 213.00 L254.00 215.00 L252.00 215.00 L252.00 216.00 L251.00 216.00 L251.00 215.00 L249.00 215.00 L249.00 213.00 L248.00 213.00 Z M257.00 216.00 L258.00 216.00 L258.00 214.00 L260.00 214.00 L260.00 213.00 L261.00 213.00 L261.00 214.00 L263.00 214.00 L263.00 216.00 L264.00 216.00 L264.00 217.00 L263.00 217.00 L263.00 219.00 L261.00 219.00 L261.00 220.00 L260.00 220.00 L260.00 219.00 L258.00 219.00 L258.00 217.00 L257.00 217.00 Z M265.00 216.00 L266.00 216.00 L266.00 214.00 L268.00 214.00 L268.00 213.00 L269.00 213.00 L269.00 214.00 L271.00 214.00 L271.00 216.00 L272.00 216.00 L272.00 217.00 L271.00 217.00 L271.00 219.00 L269.00 219.00 L269.00 220.00 L268.00 220.00 L268.00 219.00 L266.00 219.00 L266.00 217.00 L265.00 217.00 Z M273.00 212.00 L274.00 212.00 L274.00 210.00 L276.00 210.00 L276.00 209.00 L277.00 209.00 L277.00 210.00 L279.00 210.00 L279.00 212.00 L280.00 212.00 L280.00 213.00 L279.00 213.00 L279.00 215.00 L277.00 215.00 L277.00 216.00 L276.00 216.00 L276.00 215.00 L274.00 215.00 L274.00 213.00 L273.00 213.00 Z M282.00 212.00 L283.00 212.00 L283.00 210.00 L285.00 210.00 L285.00 209.00 L286.00 209.00 L286.00 210.00 L288.00 210.00 L288.00 212.00 L289.00 212.00 L289.00 213.00 L288.00 213.00 L288.00 215.00 L286.00 215.00 L286.00 216.00 L285.00 216.00 L285.00 215.00 L283.00 215.00 L283.00 213.00 L282.00 213.00 Z M290.00 212.00 L291.00 212.00 L291.00 210.00 L293.00 210.00 L293.00 209.00 L294.00 209.00 L294.00 210.00 L296.00 210.00 L296.00 212.00 L297.00 212.00 L297.00 213.00 L296.00 213.00 L296.00 215.00 L294.00 215.00 L294.00 216.00 L293.00 216.00 L293.00 215.00 L291.00 215.00 L291.00 213.00 L290.00 213.00 Z M298.00 212.00 L299.00 212.00 L299.00 210.00 L301.00 210.00 L301.00 209.00 L302.00 209.00 L302.00 210.00 L304.00 210.00 L304.00 212.00 L305.00 212.00 L305.00 213.00 L304.00 213.00 L304.00 215.00 L302.00 215.00 L302.00 216.00 L301.00 216.00 L301.00 215.00 L299.00 215.00 L299.00 213.00 L298.00 213.00 Z M307.00 208.00 L308.00 208.00 L308.00 206.00 L310.00 206.00 L310.00 205.00 L311.00 205.00 L311.00 206.00 L313.00 206.00 L313.00 208.00 L314.00 208.00 L314.00 209.00 L313.00 209.00 L313.00 211.00 L311.00 211.00 L311.00 212.00 L310.00 212.00 L310.00 211.00 L308.00 211.00 L308.00 209.00 L307.00 209.00 Z M315.00 204.00 L316.00 204.00 L316.00 202.00 L318.00 202.00 L318.00 201.00 L319.00 201.00 L319.00 202.00 L321.00 202.00 L321.00 204.00 L322.00 204.00 L322.00 205.00 L321.00 205.00 L321.00 207.00 L319.00 207.00 L319.00 208.00 L318.00 208.00 L318.00 207.00 L316.00 207.00 L316.00 205.00 L315.00 205.00 Z M324.00 200.00 L325.00 200.00 L325.00 198.00 L327.00 198.00 L327.00 197.00 L328.00 197.00 L328.00 198.00 L330.00 198.00 L330.00 200.00 L331.00 200.00 L331.00 201.00 L330.00 201.00 L330.00 203.00 L328.00 203.00 L328.00 204.00 L327.00 204.00 L327.00 203.00 L325.00 203.00 L325.00 201.00 L324.00 201.00 Z M332.00 196.00 L333.00 196.00 L333.00 194.00 L335.00 194.00 L335.00 193.00 L336.00 193.00 L336.00 194.00 L338.00 194.00 L338.00 196.00 L339.00 196.00 L339.00 197.00 L338.00 197.00 L338.00 199.00 L336.00 199.00 L336.00 200.00 L335.00 200.00 L335.00 199.00 L333.00 199.00 L333.00 197.00 L332.00 197.00 Z M340.00 196.00 L341.00 196.00 L341.00 194.00 L343.00 194.00 L343.00 193.00 L344.00 193.00 L344.00 194.00 L346.00 194.00 L346.00 196.00 L347.00 196.00 L347.00 197.00 L346.00 197.00 L346.00 199.00 L344.00 199.00 L344.00 200.00 L343.00 200.00 L343.00 199.00 L341.00 199.00 L341.00 197.00 L340.00 197.00 Z M349.00 196.00 L350.00 196.00 L350.00 194.00 L352.00 194.00 L352.00 193.00 L353.00 193.00 L353.00 194.00 L355.00 194.00 L355.00 196.00 L356.00 196.00 L356.00 197.00 L355.00 197.00 L355.00 199.00 L353.00 199.00 L353.00 200.00 L352.00 200.00 L352.00 199.00 L350.00 199.00 L350.00 197.00 L349.00 197.00 Z M357.00 204.00 L358.00 204.00 L358.00 202.00 L360.00 202.00 L360.00 201.00 L361.00 201.00 L361.00 202.00 L363.00 202.00 L363.00 204.00 L364.00 204.00 L364.00 205.00 L363.00 205.00 L363.00 207.00 L361.00 207.00 L361.00 208.00 L360.00 208.00 L360.00 207.00 L358.00 207.00 L358.00 205.00 L357.00 205.00 Z M365.00 208.00 L366.00 208.00 L366.00 206.00 L368.00 206.00 L368.00 205.00 L369.00 205.00 L369.00 206.00 L371.00 206.00 L371.00 208.00 L372.00 208.00 L372.00 209.00 L371.00 209.00 L371.00 211.00 L369.00 211.00 L369.00 212.00 L368.00 212.00 L368.00 211.00 L366.00 211.00 L366.00 209.00 L365.00 209.00 Z M374.00 208.00 L375.00 208.00 L375.00 206.00 L377.00 206.00 L377.00 205.00 L378.00 205.00 L378.00 206.00 L380.00 206.00 L380.00 208.00 L381.00 208.00 L381.00 209.00 L380.00 209.00 L380.00 211.00 L378.00 211.00 L378.00 212.00 L377.00 212.00 L377.00 211.00 L375.00 211.00 L375.00 209.00 L374.00 209.00 Z M382.00 204.00 L383.00 204.00 L383.00 202.00 L385.00 202.00 L385.00 201.00 L386.00 201.00 L386.00 202.00 L388.00 202.00 L388.00 204.00 L389.00 204.00 L389.00 205.00 L388.00 205.00 L388.00 207.00 L386.00 207.00 L386.00 208.00 L385.00 208.00 L385.00 207.00 L383.00 207.00 L383.00 205.00 L382.00 205.00 Z M390.00 208.00 L391.00 208.00 L391.00 206.00 L393.00 206.00 L393.00 205.00 L394.00 205.00 L394.00 206.00 L396.00 206.00 L396.00 208.00 L397.00 208.00 L397.00 209.00 L396.00 209.00 L396.00 211.00 L394.00 211.00 L394.00 212.00 L393.00 212.00 L393.00 211.00 L391.00 211.00 L391.00 209.00 L390.00 209.00 Z M399.00 208.00 L400.00 208.00 L400.00 206.00 L402.00 206.00 L402.00 205.00 L403.00 205.00 L403.00 206.00 L405.00 206.00 L405.00 208.00 L406.00 208.00 L406.00 209.00 L405.00 209.00 L405.00 211.00 L403.00 211.00 L403.00 212.00 L402.00 212.00 L402.00 211.00 L400.00 211.00 L400.00 209.00 L399.00 209.00 Z M407.00 212.00 L408.00 212.00 L408.00 210.00 L410.00 210.00 L410.00 209.00 L411.00 209.00 L411.00 210.00 L413.00 210.00 L413.00 212.00 L414.00 212.00 L414.00 213.00 L413.00 213.00 L413.00 215.00 L411.00 215.00 L411.00 216.00 L410.00 216.00 L410.00 215.00 L408.00 215.00 L408.00 213.00 L407.00 213.00 Z M416.00 216.00 L417.00 216.00 L417.00 214.00 L419.00 214.00 L419.00 213.00 L420.00 213.00 L420.00 214.00 L422.00 214.00 L422.00 216.00 L423.00 216.00 L423.00 217.00 L422.00 217.00 L422.00 219.00 L420.00 219.00 L420.00 220.00 L419.00 220.00 L419.00 219.00 L417.00 219.00 L417.00 217.00 L416.00 217.00 Z M424.00 212.00 L425.00 212.00 L425.00 210.00 L427.00 210.00 L427.00 209.00 L428.00 209.00 L428.00 210.00 L430.00 210.00 L430.00 212.00 L431.00 212.00 L431.00 213.00 L430.00 213.00 L430.00 215.00 L428.00 215.00 L428.00 216.00 L427.00 216.00 L427.00 215.00 L425.00 215.00 L425.00 213.00 L424.00 213.00 Z M432.00 212.00 L433.00 212.00 L433.00 210.00 L435.00 210.00 L435.00 209.00 L436.00 209.00 L436.00 210.00 L438.00 210.00 L438.00 212.00 L439.00 212.00 L439.00 213.00 L438.00 213.00 L438.00 215.00 L436.00 215.00 L436.00 216.00 L435.00 216.00 L435.00 215.00 L433.00 215.00 L433.00 213.00 L432.00 213.00 Z M441.00 216.00 L442.00 216.00 L442.00 214.00 L444.00 214.00 L444.00 213.00 L445.00 213.00 L445.00 214.00 L447.00 214.00 L447.00 216.00 L448.00 216.00 L448.00 217.00 L447.00 217.00 L447.00 219.00 L445.00 219.00 L445.00 220.00 L444.00 220.00 L444.00 219.00 L442.00 219.00 L442.00 217.00 L441.00 217.00 Z M449.00 216.00 L450.00 216.00 L450.00 214.00 L452.00 214.00 L452.00 213.00 L453.00 213.00 L453.00 214.00 L455.00 214.00 L455.00 216.00 L456.00 216.00 L456.00 217.00 L455.00 217.00 L455.00 219.00 L453.00 219.00 L453.00 220.00 L452.00 220.00 L452.00 219.00 L450.00 219.00 L450.00 217.00 L449.00 217.00 Z M457.00 220.00 L458.00 220.00 L458.00 218.00 L460.00 218.00 L460.00 217.00 L461.00 217.00 L461.00 218.00 L463.00 218.00 L463.00 220.00 L464.00 220.00 L464.00 221.00 L463.00 221.00 L463.00 223.00 L461.00 223.00 L461.00 224.00 L460.00 224.00 L460.00 223.00 L458.00 223.00 L458.00 221.00 L457.00 221.00 Z M466.00 224.00 L467.00 224.00 L467.00 222.00 L469.00 222.00 L469.00 221.00 L470.00 221.00 L470.00 222.00 L472.00 222.00 L472.00 224.00 L473.00 224.00 L473.00 225.00 L472.00 225.00 L472.00 227.00 L470.00 227.00 L470.00 228.00 L469.00 228.00 L469.00 227.00 L467.00 227.00 L467.00 225.00 L466.00 225.00 Z M474.00 220.00 L475.00 220.00 L475.00 218.00 L477.00 218.00 L477.00 217.00 L478.00 217.00 L478.00 218.00 L480.00 218.00 L480.00 220.00 L481.00 220.00 L481.00 221.00 L480.00 221.00 L480.00 223.00 L478.00 223.00 L478.00 224.00 L477.00 224.00 L477.00 223.00 L475.00 223.00 L475.00 221.00 L474.00 221.00 Z M482.00 224.00 L483.00 224.00 L483.00 222.00 L485.00 222.00 L485.00 221.00 L486.00 221.00 L486.00 222.00 L488.00 222.00 L488.00 224.00 L489.00 224.00 L489.00 225.00 L488.00 225.00 L488.00 227.00 L486.00 227.00 L486.00 228.00 L485.00 228.00 L485.00 227.00 L483.00 227.00 L483.00 225.00 L482.00 225.00 Z M491.00 220.00 L492.00 220.00 L492.00 218.00 L494.00 218.00 L494.00 217.00 L495.00 217.00 L495.00 218.00 L497.00 218.00 L497.00 220.00 L498.00 220.00 L498.00 221.00 L497.00 221.00 L497.00 223.00 L495.00 223.00 L495.00 224.00 L494.00 224.00 L494.00 223.00 L492.00 223.00 L492.00 221.00 L491.00 221.00 Z M499.00 224.00 L500.00 224.00 L500.00 222.00 L502.00 222.00 L502.00 221.00 L503.00 221.00 L503.00 222.00 L505.00 222.00 L505.00 224.00 L506.00 224.00 L506.00 225.00 L505.00 225.00 L505.00 227.00 L503.00 227.00 L503.00 228.00 L502.00 228.00 L502.00 227.00 L500.00 227.00 L500.00 225.00 L499.00 225.00 Z M507.00 228.00 L508.00 228.00 L508.00 226.00 L510.00 226.00 L510.00 225.00 L511.00 225.00 L511.00 226.00 L513.00 226.00 L513.00 228.00 L514.00 228.00 L514.00 229.00 L513.00 229.00 L513.00 231.00 L511.00 231.00 L511.00 232.00 L510.00 232.00 L510.00 231.00 L508.00 231.00 L508.00 229.00 L507.00 229.00 Z M516.00 228.00 L517.00 228.00 L517.00 226.00 L519.00 226.00 L519.00 225.00 L520.00 225.00 L520.00 226.00 L522.00 226.00 L522.00 228.00 L523.00 228.00 L523.00 229.00 L522.00 229.00 L522.00 231.00 L520.00 231.00 L520.00 232.00 L519.00 232.00 L519.00 231.00 L517.00 231.00 L517.00 229.00 L516.00 229.00 Z M524.00 224.00 L525.00 224.00 L525.00 222.00 L527.00 222.00 L527.00 221.00 L528.00 221.00 L528.00 222.00 L530.00 222.00 L530.00 224.00 L531.00 224.00 L531.00 225.00 L530.00 225.00 L530.00 227.00 L528.00 227.00 L528.00 228.00 L527.00 228.00 L527.00 227.00 L525.00 227.00 L525.00 225.00 L524.00 225.00 Z M533.00 224.00 L534.00 224.00 L534.00 222.00 L536.00 222.00 L536.00 221.00 L537.00 221.00 L537.00 222.00 L539.00 222.00 L539.00 224.00 L540.00 224.00 L540.00 225.00 L539.00 225.00 L539.00 227.00 L537.00 227.00 L537.00 228.00 L536.00 228.00 L536.00 227.00 L534.00 227.00 L534.00 225.00 L533.00 225.00 Z M541.00 224.00 L542.00 224.00 L542.00 222.00 L544.00 222.00 L544.00 221.00 L545.00 221.00 L545.00 222.00 L547.00 222.00 L547.00 224.00 L548.00 224.00 L548.00 225.00 L547.00 225.00 L547.00 227.00 L545.00 227.00 L545.00 228.00 L544.00 228.00 L544.00 227.00 L542.00 227.00 L542.00 225.00 L541.00 225.00 Z M549.00 220.00 L550.00 220.00 L550.00 218.00 L552.00 218.00 L552.00 217.00 L553.00 217.00 L553.00 218.00 L555.00 218.00 L555.00 220.00 L556.00 220.00 L556.00 221.00 L555.00 221.00 L555.00 223.00 L553.00 223.00 L553.00 224.00 L552.00 224.00 L552.00 223.00 L550.00 223.00 L550.00 221.00 L549.00 221.00 Z M558.00 224.00 L559.00 224.00 L559.00 222.00 L561.00 222.00 L561.00 221.00 L562.00 221.00 L562.00 222.00 L564.00 222.00 L564.00 224.00 L565.00 224.00 L565.00 225.00 L564.00 225.00 L564.00 227.00 L562.00 227.00 L562.00 228.00 L561.00 228.00 L561.00 227.00 L559.00 227.00 L559.00 225.00 L558.00 225.00 Z M566.00 220.00 L567.00 220.00 L567.00 218.00 L569.00 218.00 L569.00 217.00 L570.00 217.00 L570.00 218.00 L572.00 218.00 L572.00 220.00 L573.00 220.00 L573.00 221.00 L572.00 221.00 L572.00 223.00 L570.00 223.00 L570.00 224.00 L569.00 224.00 L569.00 223.00 L567.00 223.00 L567.00 221.00 L566.00 221.00 Z M574.00 224.00 L575.00 224.00 L575.00 222.00 L577.00 222.00 L577.00 221.00 L578.00 221.00 L578.00 222.00 L580.00 222.00 L580.00 224.00 L581.00 224.00 L581.00 225.00 L580.00 225.00 L580.00 227.00 L578.00 227.00 L578.00 228.00 L577.00 228.00 L577.00 227.00 L575.00 227.00 L575.00 225.00 L574.00 225.00 Z M583.00 228.00 L584.00 228.00 L584.00 226.00 L586.00 226.00 L586.00 225.00 L587.00 225.00 L587.00 226.00 L589.00 226.00 L589.00 228.00 L590.00 228.00 L590.00 229.00 L589.00 229.00 L589.00 231.00 L587.00 231.00 L587.00 232.00 L586.00 232.00 L586.00 231.00 L584.00 231.00 L584.00 229.00 L583.00 229.00 Z M591.00 228.00 L592.00 228.00 L592.00 226.00 L594.00 226.00 L594.00 225.00 L595.00 225.00 L595.00 226.00 L597.00 226.00 L597.00 228.00 L598.00 228.00 L598.00 229.00 L597.00 229.00 L597.00 231.00 L595.00 231.00 L595.00 232.00 L594.00 232.00 L594.00 231.00 L592.00 231.00 L592.00 229.00 L591.00 229.00 Z M599.00 228.00 L600.00 228.00 L600.00 226.00 L602.00 226.00 L602.00 225.00 L603.00 225.00 L603.00 226.00 L605.00 226.00 L605.00 228.00 L606.00 228.00 L606.00 229.00 L605.00 229.00 L605.00 231.00 L603.00 231.00 L603.00 232.00 L602.00 232.00 L602.00 231.00 L600.00 231.00 L600.00 229.00 L599.00 229.00 Z M608.00 228.00 L609.00 228.00 L609.00 226.00 L611.00 226.00 L611.00 225.00 L612.00 225.00 L612.00 226.00 L614.00 226.00 L614.00 228.00 L615.00 228.00 L615.00 229.00 L614.00 229.00 L614.00 231.00 L612.00 231.00 L612.00 232.00 L611.00 232.00 L611.00 231.00 L609.00 231.00 L609.00 229.00 L608.00 229.00 Z M616.00 232.00 L617.00 232.00 L617.00 230.00 L619.00 230.00 L619.00 229.00 L620.00 229.00 L620.00 230.00 L622.00 230.00 L622.00 232.00 L623.00 232.00 L623.00 233.00 L622.00 233.00 L622.00 235.00 L620.00 235.00 L620.00 236.00 L619.00 236.00 L619.00 235.00 L617.00 235.00 L617.00 233.00 L616.00 233.00 Z M624.00 228.00 L625.00 228.00 L625.00 226.00 L627.00 226.00 L627.00 225.00 L628.00 225.00 L628.00 226.00 L630.00 226.00 L630.00 228.00 L631.00 228.00 L631.00 229.00 L630.00 229.00 L630.00 231.00 L628.00 231.00 L628.00 232.00 L627.00 232.00 L627.00 231.00 L625.00 231.00 L625.00 229.00 L624.00 229.00 Z M633.00 228.00 L634.00 228.00 L634.00 226.00 L636.00 226.00 L636.00 225.00 L637.00 225.00 L637.00 226.00 L639.00 226.00 L639.00 228.00 L640.00 228.00 L640.00 229.00 L639.00 229.00 L639.00 231.00 L637.00 231.00 L637.00 232.00 L636.00 232.00 L636.00 231.00 L634.00 231.00 L634.00 229.00 L633.00 229.00 Z M641.00 228.00 L642.00 228.00 L642.00 226.00 L644.00 226.00 L644.00 225.00 L645.00 225.00 L645.00 226.00 L647.00 226.00 L647.00 228.00 L648.00 228.00 L648.00 229.00 L647.00 229.00 L647.00 231.00 L645.00 231.00 L645.00 232.00 L644.00 232.00 L644.00 231.00 L642.00 231.00 L642.00 229.00 L641.00 229.00 Z M650.00 228.00 L651.00 228.00 L651.00 226.00 L653.00 226.00 L653.00 225.00 L654.00 225.00 L654.00 226.00 L656.00 226.00 L656.00 228.00 L657.00 228.00 L657.00 229.00 L656.00 229.00 L656.00 231.00 L654.00 231.00 L654.00 232.00 L653.00 232.00 L653.00 231.00 L651.00 231.00 L651.00 229.00 L650.00 229.00 Z M658.00 232.00 L659.00 232.00 L659.00 230.00 L661.00 230.00 L661.00 229.00 L662.00 229.00 L662.00 230.00 L664.00 230.00 L664.00 232.00 L665.00 232.00 L665.00 233.00 L664.00 233.00 L664.00 235.00 L662.00 235.00 L662.00 236.00 L661.00 236.00 L661.00 235.00 L659.00 235.00 L659.00 233.00 L658.00 233.00 Z M666.00 236.00 L667.00 236.00 L667.00 234.00 L669.00 234.00 L669.00 233.00 L670.00 233.00 L670.00 234.00 L672.00 234.00 L672.00 236.00 L673.00 236.00 L673.00 237.00 L672.00 237.00 L672.00 239.00 L670.00 239.00 L670.00 240.00 L669.00 240.00 L669.00 239.00 L667.00 239.00 L667.00 237.00 L666.00 237.00 Z M675.00 236.00 L676.00 236.00 L676.00 234.00 L678.00 234.00 L678.00 233.00 L679.00 233.00 L679.00 234.00 L681.00 234.00 L681.00 236.00 L682.00 236.00 L682.00 237.00 L681.00 237.00 L681.00 239.00 L679.00 239.00 L679.00 240.00 L678.00 240.00 L678.00 239.00 L676.00 239.00 L676.00 237.00 L675.00 237.00 Z M683.00 236.00 L684.00 236.00 L684.00 234.00 L686.00 234.00 L686.00 233.00 L687.00 233.00 L687.00 234.00 L689.00 234.00 L689.00 236.00 L690.00 236.00 L690.00 237.00 L689.00 237.00 L689.00 239.00 L687.00 239.00 L687.00 240.00 L686.00 240.00 L686.00 239.00 L684.00 239.00 L684.00 237.00 L683.00 237.00 Z M691.00 236.00 L692.00 236.00 L692.00 234.00 L694.00 234.00 L694.00 233.00 L695.00 233.00 L695.00 234.00 L697.00 234.00 L697.00 236.00 L698.00 236.00 L698.00 237.00 L697.00 237.00 L697.00 239.00 L695.00 239.00 L695.00 240.00 L694.00 240.00 L694.00 239.00 L692.00 239.00 L692.00 237.00 L691.00 237.00 Z M700.00 236.00 L701.00 236.00 L701.00 234.00 L703.00 234.00 L703.00 233.00 L704.00 233.00 L704.00 234.00 L706.00 234.00 L706.00 236.00 L707.00 236.00 L707.00 237.00 L706.00 237.00 L706.00 239.00 L704.00 239.00 L704.00 240.00 L703.00 240.00 L703.00 239.00 L701.00 239.00 L701.00 237.00 L700.00 237.00 Z M708.00 236.00 L709.00 236.00 L709.00 234.00 L711.00 234.00 L711.00 233.00 L712.00 233.00 L712.00 234.00 L714.00 234.00 L714.00 236.00 L715.00 236.00 L715.00 237.00 L714.00 237.00 L714.00 239.00 L712.00 239.00 L712.00 240.00 L711.00 240.00 L711.00 239.00 L709.00 239.00 L709.00 237.00 L708.00 237.00 Z M716.00 236.00 L717.00 236.00 L717.00 234.00 L719.00 234.00 L719.00 233.00 L720.00 233.00 L720.00 234.00 L722.00 234.00 L722.00 236.00 L723.00 236.00 L723.00 237.00 L722.00 237.00 L722.00 239.00 L720.00 239.00 L720.00 240.00 L719.00 240.00 L719.00 239.00 L717.00 239.00 L717.00 237.00 L716.00 237.00 Z M725.00 232.00 L726.00 232.00 L726.00 230.00 L728.00 230.00 L728.00 229.00 L729.00 229.00 L729.00 230.00 L731.00 230.00 L731.00 232.00 L732.00 232.00 L732.00 233.00 L731.00 233.00 L731.00 235.00 L729.00 235.00 L729.00 236.00 L728.00 236.00 L728.00 235.00 L726.00 235.00 L726.00 233.00 L725.00 233.00 Z M733.00 232.00 L734.00 232.00 L734.00 230.00 L736.00 230.00 L736.00 229.00 L737.00 229.00 L737.00 230.00 L739.00 230.00 L739.00 232.00 L740.00 232.00 L740.00 233.00 L739.00 233.00 L739.00 235.00 L737.00 235.00 L737.00 236.00 L736.00 236.00 L736.00 235.00 L734.00 235.00 L734.00 233.00 L733.00 233.00 Z M741.00 232.00 L742.00 232.00 L742.00 230.00 L744.00 230.00 L744.00 229.00 L745.00 229.00 L745.00 230.00 L747.00 230.00 L747.00 232.00 L748.00 232.00 L748.00 233.00 L747.00 233.00 L747.00 235.00 L745.00 235.00 L745.00 236.00 L744.00 236.00 L744.00 235.00 L742.00 235.00 L742.00 233.00 L741.00 233.00 Z M750.00 228.00 L751.00 228.00 L751.00 226.00 L753.00 226.00 L753.00 225.00 L754.00 225.00 L754.00 226.00 L756.00 226.00 L756.00 228.00 L757.00 228.00 L757.00 229.00 L756.00 229.00 L756.00 231.00 L754.00 231.00 L754.00 232.00 L753.00 232.00 L753.00 231.00 L751.00 231.00 L751.00 229.00 L750.00 229.00 Z M758.00 228.00 L759.00 228.00 L759.00 226.00 L761.00 226.00 L761.00 225.00 L762.00 225.00 L762.00 226.00 L764.00 226.00 L764.00 228.00 L765.00 228.00 L765.00 229.00 L764.00 229.00 L764.00 231.00 L762.00 231.00 L762.00 232.00 L761.00 232.00 L761.00 231.00 L759.00 231.00 L759.00 229.00 L758.00 229.00 Z M767.00 228.00 L768.00 228.00 L768.00 226.00 L770.00 226.00 L770.00 225.00 L771.00 225.00 L771.00 226.00 L773.00 226.00 L773.00 228.00 L774.00 228.00 L774.00 229.00 L773.00 229.00 L773.00 231.00 L771.00 231.00 L771.00 232.00 L770.00 232.00 L770.00 231.00 L768.00 231.00 L768.00 229.00 L767.00 229.00 Z M775.00 232.00 L776.00 232.00 L776.00 230.00 L778.00 230.00 L778.00 229.00 L779.00 229.00 L779.00 230.00 L781.00 230.00 L781.00 232.00 L782.00 232.00 L782.00 233.00 L781.00 233.00 L781.00 235.00 L779.00 235.00 L779.00 236.00 L778.00 236.00 L778.00 235.00 L776.00 235.00 L776.00 233.00 L775.00 233.00 Z M783.00 236.00 L784.00 236.00 L784.00 234.00 L786.00 234.00 L786.00 233.00 L787.00 233.00 L787.00 234.00 L789.00 234.00 L789.00 236.00 L790.00 236.00 L790.00 237.00 L789.00 237.00 L789.00 239.00 L787.00 239.00 L787.00 240.00 L786.00 240.00 L786.00 239.00 L784.00 239.00 L784.00 237.00 L783.00 237.00 Z M792.00 236.00 L793.00 236.00 L793.00 234.00 L795.00 234.00 L795.00 233.00 L796.00 233.00 L796.00 234.00 L798.00 234.00 L798.00 236.00 L799.00 236.00 L799.00 237.00 L798.00 237.00 L798.00 239.00 L796.00 239.00 L796.00 240.00 L795.00 240.00 L795.00 239.00 L793.00 239.00 L793.00 237.00 L792.00 237.00 Z M800.00 236.00 L801.00 236.00 L801.00 234.00 L803.00 234.00 L803.00 233.00 L804.00 233.00 L804.00 234.00 L806.00 234.00 L806.00 236.00 L807.00 236.00 L807.00 237.00 L806.00 237.00 L806.00 239.00 L804.00 239.00 L804.00 240.00 L803.00 240.00 L803.00 239.00 L801.00 239.00 L801.00 237.00 L800.00 237.00 Z" fill="#4f81bd"/>
<polyline points="34.50,331.81 42.86,240.10 51.22,252.06 59.58,236.11 67.93,256.05 76.29,268.01 84.65,268.01 93.01,275.99 101.37,299.91 109.73,303.90 118.09,283.96 126.45,275.99 134.80,283.96 143.16,287.95 151.52,291.94 159.88,291.94 168.24,295.93 176.60,275.99 184.96,279.98 193.32,283.96 201.67,268.01 210.03,256.05 218.39,256.05 226.75,252.06 235.11,248.08 243.47,256.05 251.83,252.06 260.18,248.08 268.54,248.08 276.90,252.06 285.26,252.06 293.62,252.06 301.98,252.06 310.34,256.05 318.70,260.04 327.05,264.02 335.41,268.01 343.77,268.01 352.13,268.01 360.49,260.04 368.85,256.05 377.21,256.05 385.57,260.04 393.92,256.05 402.28,256.05 410.64,252.06 419.00,248.08 427.36,252.06 435.72,252.06 444.08,248.08 452.44,248.08 460.79,244.09 469.15,240.10 477.51,244.09 485.87,240.10 494.23,244.09 502.59,240.10 510.95,236.11 519.30,236.11 527.66,240.10 536.02,240.10 544.38,240.10 552.74,244.09 561.10,240.10 569.46,244.09 577.82,240.10 586.17,236.11 594.53,236.11 602.89,236.11 611.25,236.11 619.61,232.12 627.97,236.11 636.33,236.11 644.69,236.11 653.04,236.11 661.40,232.12 669.76,228.14 678.12,228.14 686.48,228.14 694.84,228.14 703.20,228.14 711.55,228.14 719.91,228.14 728.27,232.12 736.63,232.12 744.99,232.12 753.35,236.11 761.71,236.11 770.07,236.11 778.42,232.12 786.78,228.14 795.14,228.14 803.50,228.14" fill="none" stroke="#fdb850" stroke-width="1"/><path d="M31.00 331.00 L32.00 331.00 L32.00 329.00 L34.00 329.00 L34.00 328.00 L35.00 328.00 L35.00 329.00 L37.00 329.00 L37.00 331.00 L38.00 331.00 L38.00 332.00 L37.00 332.00 L37.00 334.00 L35.00 334.00 L35.00 335.00 L34.00 335.00 L34.00 334.00 L32.00 334.00 L32.00 332.00 L31.00 332.00 Z M39.00 240.00 L40.00 240.00 L40.00 238.00 L42.00 238.00 L42.00 237.00 L43.00 237.00 L43.00 238.00 L45.00 238.00 L45.00 240.00 L46.00 240.00 L46.00 241.00 L45.00 241.00 L45.00 243.00 L43.00 243.00 L43.00 244.00 L42.00 244.00 L42.00 243.00 L40.00 243.00 L40.00 241.00 L39.00 241.00 Z M48.00 252.00 L49.00 252.00 L49.00 250.00 L51.00 250.00 L51.00 249.00 L52.00 249.00 L52.00 250.00 L54.00 250.00 L54.00 252.00 L55.00 252.00 L55.00 253.00 L54.00 253.00 L54.00 255.00 L52.00 255.00 L52.00 256.00 L51.00 256.00 L51.00 255.00 L49.00 255.00 L49.00 253.00 L48.00 253.00 Z M56.00 236.00 L57.00 236.00 L57.00 234.00 L59.00 234.00 L59.00 233.00 L60.00 233.00 L60.00 234.00 L62.00 234.00 L62.00 236.00 L63.00 236.00 L63.00 237.00 L62.00 237.00 L62.00 239.00 L60.00 239.00 L60.00 240.00 L59.00 240.00 L59.00 239.00 L57.00 239.00 L57.00 237.00 L56.00 237.00 Z M64.00 256.00 L65.00 256.00 L65.00 254.00 L67.00 254.00 L67.00 253.00 L68.00 253.00 L68.00 254.00 L70.00 254.00 L70.00 256.00 L71.00 256.00 L71.00 257.00 L70.00 257.00 L70.00 259.00 L68.00 259.00 L68.00 260.00 L67.00 260.00 L67.00 259.00 L65.00 259.00 L65.00 257.00 L64.00 257.00 Z M73.00 268.00 L74.00 268.00 L74.00 266.00 L76.00 266.00 L76.00 265.00 L77.00 265.00 L77.00 266.00 L79.00 266.00 L79.00 268.00 L80.00 268.00 L80.00 269.00 L79.00 269.00 L79.00 271.00 L77.00 271.00 L77.00 272.00 L76.00 272.00 L76.00 271.00 L74.00 271.00 L74.00 269.00 L73.00 269.00 Z M81.00 268.00 L82.00 268.00 L82.00 266.00 L84.00 266.00 L84.00 265.00 L85.00 265.00 L85.00 266.00 L87.00 266.00 L87.00 268.00 L88.00 268.00 L88.00 269.00 L87.00 269.00 L87.00 271.00 L85.00 271.00 L85.00 272.00 L84.00 272.00 L84.00 271.00 L82.00 271.00 L82.00 269.00 L81.00 269.00 Z M90.00 275.00 L91.00 275.00 L91.00 273.00 L93.00 273.00 L93.00 272.00 L94.00 272.00 L94.00 273.00 L96.00 273.00 L96.00 275.00 L97.00 275.00 L97.00 276.00 L96.00 276.00 L96.00 278.00 L94.00 278.00 L94.00 279.00 L93.00 279.00 L93.00 278.00 L91.00 278.00 L91.00 276.00 L90.00 276.00 Z M98.00 299.00 L99.00 299.00 L99.00 297.00 L101.00 297.00 L101.00 296.00 L102.00 296.00 L102.00 297.00 L104.00 297.00 L104.00 299.00 L105.00 299.00 L105.00 300.00 L104.00 300.00 L104.00 302.00 L102.00 302.00 L102.00 303.00 L101.00 303.00 L101.00 302.00 L99.00 302.00 L99.00 300.00 L98.00 300.00 Z M106.00 303.00 L107.00 303.00 L107.00 301.00 L109.00 301.00 L109.00 300.00 L110.00 300.00 L110.00 301.00 L112.00 301.00 L112.00 303.00 L113.00 303.00 L113.00 304.00 L112.00 304.00 L112.00 306.00 L110.00 306.00 L110.00 307.00 L109.00 307.00 L109.00 306.00 L107.00 306.00 L107.00 304.00 L106.00 304.00 Z M115.00 283.00 L116.00 283.00 L116.00 281.00 L118.00 281.00 L118.00 280.00 L119.00 280.00 L119.00 281.00 L121.00 281.00 L121.00 283.00 L122.00 283.00 L122.00 284.00 L121.00 284.00 L121.00 286.00 L119.00 286.00 L119.00 287.00 L118.00 287.00 L118.00 286.00 L116.00 286.00 L116.00 284.00 L115.00 284.00 Z M123.00 275.00 L124.00 275.00 L124.00 273.00 L126.00 273.00 L126.00 272.00 L127.00 272.00 L127.00 273.00 L129.00 273.00 L129.00 275.00 L130.00 275.00 L130.00 276.00 L129.00 276.00 L129.00 278.00 L127.00 278.00 L127.00 279.00 L126.00 279.00 L126.00 278.00 L124.00 278.00 L124.00 276.00 L123.00 276.00 Z M131.00 283.00 L132.00 283.00 L132.00 281.00 L134.00 281.00 L134.00 280.00 L135.00 280.00 L135.00 281.00 L137.00 281.00 L137.00 283.00 L138.00 283.00 L138.00 284.00 L137.00 284.00 L137.00 286.00 L135.00 286.00 L135.00 287.00 L134.00 287.00 L134.00 286.00 L132.00 286.00 L132.00 284.00 L131.00 284.00 Z M140.00 287.00 L141.00 287.00 L141.00 285.00 L143.00 285.00 L143.00 284.00 L144.00 284.00 L144.00 285.00 L146.00 285.00 L146.00 287.00 L147.00 287.00 L147.00 288.00 L146.00 288.00 L146.00 290.00 L144.00 290.00 L144.00 291.00 L143.00 291.00 L143.00 290.00 L141.00 290.00 L141.00 288.00 L140.00 288.00 Z M148.00 291.00 L149.00 291.00 L149.00 289.00 L151.00 289.00 L151.00 288.00 L152.00 288.00 L152.00 289.00 L154.00 289.00 L154.00 291.00 L155.00 291.00 L155.00 292.00 L154.00 292.00 L154.00 294.00 L152.00 294.00 L152.00 295.00 L151.00 295.00 L151.00 294.00 L149.00 294.00 L149.00 292.00 L148.00 292.00 Z M156.00 291.00 L157.00 291.00 L157.00 289.00 L159.00 289.00 L159.00 288.00 L160.00 288.00 L160.00 289.00 L162.00 289.00 L162.00 291.00 L163.00 291.00 L163.00 292.00 L162.00 292.00 L162.00 294.00 L160.00 294.00 L160.00 295.00 L159.00 295.00 L159.00 294.00 L157.00 294.00 L157.00 292.00 L156.00 292.00 Z M165.00 295.00 L166.00 295.00 L166.00 293.00 L168.00 293.00 L168.00 292.00 L169.00 292.00 L169.00 293.00 L171.00 293.00 L171.00 295.00 L172.00 295.00 L172.00 296.00 L171.00 296.00 L171.00 298.00 L169.00 298.00 L169.00 299.00 L168.00 299.00 L168.00 298.00 L166.00 298.00 L166.00 296.00 L165.00 296.00 Z M173.00 275.00 L174.00 275.00 L174.00 273.00 L176.00 273.00 L176.00 272.00 L177.00 272.00 L177.00 273.00 L179.00 273.00 L179.00 275.00 L180.00 275.00 L180.00 276.00 L179.00 276.00 L179.00 278.00 L177.00 278.00 L177.00 279.00 L176.00 279.00 L176.00 278.00 L174.00 278.00 L174.00 276.00 L173.00 276.00 Z M181.00 279.00 L182.00 279.00 L182.00 277.00 L184.00 277.00 L184.00 276.00 L185.00 276.00 L185.00 277.00 L187.00 277.00 L187.00 279.00 L188.00 279.00 L188.00 280.00 L187.00 280.00 L187.00 282.00 L185.00 282.00 L185.00 283.00 L184.00 283.00 L184.00 282.00 L182.00 282.00 L182.00 280.00 L181.00 280.00 Z M190.00 283.00 L191.00 283.00 L191.00 281.00 L193.00 281.00 L193.00 280.00 L194.00 280.00 L194.00 281.00 L196.00 281.00 L196.00 283.00 L197.00 283.00 L197.00 284.00 L196.00 284.00 L196.00 286.00 L194.00 286.00 L194.00 287.00 L193.00 287.00 L193.00 286.00 L191.00 286.00 L191.00 284.00 L190.00 284.00 Z M198.00 268.00 L199.00 268.00 L199.00 266.00 L201.00 266.00 L201.00 265.00 L202.00 265.00 L202.00 266.00 L204.00 266.00 L204.00 268.00 L205.00 268.00 L205.00 269.00 L204.00 269.00 L204.00 271.00 L202.00 271.00 L202.00 272.00 L201.00 272.00 L201.00 271.00 L199.00 271.00 L199.00 269.00 L198.00 269.00 Z M207.00 256.00 L208.00 256.00 L208.00 254.00 L210.00 254.00 L210.00 253.00 L211.00 253.00 L211.00 254.00 L213.00 254.00 L213.00 256.00 L214.00 256.00 L214.00 257.00 L213.00 257.00 L213.00 259.00 L211.00 259.00 L211.00 260.00 L210.00 260.00 L210.00 259.00 L208.00 259.00 L208.00 257.00 L207.00 257.00 Z M215.00 256.00 L216.00 256.00 L216.00 254.00 L218.00 254.00 L218.00 253.00 L219.00 253.00 L219.00 254.00 L221.00 254.00 L221.00 256.00 L222.00 256.00 L222.00 257.00 L221.00 257.00 L221.00 259.00 L219.00 259.00 L219.00 260.00 L218.00 260.00 L218.00 259.00 L216.00 259.00 L216.00 257.00 L215.00 257.00 Z M223.00 252.00 L224.00 252.00 L224.00 250.00 L226.00 250.00 L226.00 249.00 L227.00 249.00 L227.00 250.00 L229.00 250.00 L229.00 252.00 L230.00 252.00 L230.00 253.00 L229.00 253.00 L229.00 255.00 L227.00 255.00 L227.00 256.00 L226.00 256.00 L226.00 255.00 L224.00 255.00 L224.00 253.00 L223.00 253.00 Z M232.00 248.00 L233.00 248.00 L233.00 246.00 L235.00 246.00 L235.00 245.00 L236.00 245.00 L236.00 246.00 L238.00 246.00 L238.00 248.00 L239.00 248.00 L239.00 249.00 L238.00 249.00 L238.00 251.00 L236.00 251.00 L236.00 252.00 L235.00 252.00 L235.00 251.00 L233.00 251.00 L233.00 249.00 L232.00 249.00 Z M240.00 256.00 L241.00 256.00 L241.00 254.00 L243.00 254.00 L243.00 253.00 L244.00 253.00 L244.00 254.00 L246.00 254.00 L246.00 256.00 L247.00 256.00 L247.00 257.00 L246.00 257.00 L246.00 259.00 L244.00 259.00 L244.00 260.00 L243.00 260.00 L243.00 259.00 L241.00 259.00 L241.00 257.00 L240.00 257.00 Z M248.00 252.00 L249.00 252.00 L249.00 250.00 L251.00 250.00 L251.00 249.00 L252.00 249.00 L252.00 250.00 L254.00 250.00 L254.00 252.00 L255.00 252.00 L255.00 253.00 L254.00 253.00 L254.00 255.00 L252.00 255.00 L252.00 256.00 L251.00 256.00 L251.00 255.00 L249.00 255.00 L249.00 253.00 L248.00 253.00 Z M257.00 248.00 L258.00 248.00 L258.00 246.00 L260.00 246.00 L260.00 245.00 L261.00 245.00 L261.00 246.00 L263.00 246.00 L263.00 248.00 L264.00 248.00 L264.00 249.00 L263.00 249.00 L263.00 251.00 L261.00 251.00 L261.00 252.00 L260.00 252.00 L260.00 251.00 L258.00 251.00 L258.00 249.00 L257.00 249.00 Z M265.00 248.00 L266.00 248.00 L266.00 246.00 L268.00 246.00 L268.00 245.00 L269.00 245.00 L269.00 246.00 L271.00 246.00 L271.00 248.00 L272.00 248.00 L272.00 249.00 L271.00 249.00 L271.00 251.00 L269.00 251.00 L269.00 252.00 L268.00 252.00 L268.00 251.00 L266.00 251.00 L266.00 249.00 L265.00 249.00 Z M273.00 252.00 L274.00 252.00 L274.00 250.00 L276.00 250.00 L276.00 249.00 L277.00 249.00 L277.00 250.00 L279.00 250.00 L279.00 252.00 L280.00 252.00 L280.00 253.00 L279.00 253.00 L279.00 255.00 L277.00 255.00 L277.00 256.00 L276.00 256.00 L276.00 255.00 L274.00 255.00 L274.00 253.00 L273.00 253.00 Z M282.00 252.00 L283.00 252.00 L283.00 250.00 L285.00 250.00 L285.00 249.00 L286.00 249.00 L286.00 250.00 L288.00 250.00 L288.00 252.00 L289.00 252.00 L289.00 253.00 L288.00 253.00 L288.00 255.00 L286.00 255.00 L286.00 256.00 L285.00 256.00 L285.00 255.00 L283.00 255.00 L283.00 253.00 L282.00 253.00 Z M290.00 252.00 L291.00 252.00 L291.00 250.00 L293.00 250.00 L293.00 249.00 L294.00 249.00 L294.00 250.00 L296.00 250.00 L296.00 252.00 L297.00 252.00 L297.00 253.00 L296.00 253.00 L296.00 255.00 L294.00 255.00 L294.00 256.00 L293.00 256.00 L293.00 255.00 L291.00 255.00 L291.00 253.00 L290.00 253.00 Z M298.00 252.00 L299.00 252.00 L299.00 250.00 L301.00 250.00 L301.00 249.00 L302.00 249.00 L302.00 250.00 L304.00 250.00 L304.00 252.00 L305.00 252.00 L305.00 253.00 L304.00 253.00 L304.00 255.00 L302.00 255.00 L302.00 256.00 L301.00 256.00 L301.00 255.00 L299.00 255.00 L299.00 253.00 L298.00 253.00 Z M307.00 256.00 L308.00 256.00 L308.00 254.00 L310.00 254.00 L310.00 253.00 L311.00 253.00 L311.00 254.00 L313.00 254.00 L313.00 256.00 L314.00 256.00 L314.00 257.00 L313.00 257.00 L313.00 259.00 L311.00 259.00 L311.00 260.00 L310.00 260.00 L310.00 259.00 L308.00 259.00 L308.00 257.00 L307.00 257.00 Z M315.00 260.00 L316.00 260.00 L316.00 258.00 L318.00 258.00 L318.00 257.00 L319.00 257.00 L319.00 258.00 L321.00 258.00 L321.00 260.00 L322.00 260.00 L322.00 261.00 L321.00 261.00 L321.00 263.00 L319.00 263.00 L319.00 264.00 L318.00 264.00 L318.00 263.00 L316.00 263.00 L316.00 261.00 L315.00 261.00 Z M324.00 264.00 L325.00 264.00 L325.00 262.00 L327.00 262.00 L327.00 261.00 L328.00 261.00 L328.00 262.00 L330.00 262.00 L330.00 264.00 L331.00 264.00 L331.00 265.00 L330.00 265.00 L330.00 267.00 L328.00 267.00 L328.00 268.00 L327.00 268.00 L327.00 267.00 L325.00 267.00 L325.00 265.00 L324.00 265.00 Z M332.00 268.00 L333.00 268.00 L333.00 266.00 L335.00 266.00 L335.00 265.00 L336.00 265.00 L336.00 266.00 L338.00 266.00 L338.00 268.00 L339.00 268.00 L339.00 269.00 L338.00 269.00 L338.00 271.00 L336.00 271.00 L336.00 272.00 L335.00 272.00 L335.00 271.00 L333.00 271.00 L333.00 269.00 L332.00 269.00 Z M340.00 268.00 L341.00 268.00 L341.00 266.00 L343.00 266.00 L343.00 265.00 L344.00 265.00 L344.00 266.00 L346.00 266.00 L346.00 268.00 L347.00 268.00 L347.00 269.00 L346.00 269.00 L346.00 271.00 L344.00 271.00 L344.00 272.00 L343.00 272.00 L343.00 271.00 L341.00 271.00 L341.00 269.00 L340.00 269.00 Z M349.00 268.00 L350.00 268.00 L350.00 266.00 L352.00 266.00 L352.00 265.00 L353.00 265.00 L353.00 266.00 L355.00 266.00 L355.00 268.00 L356.00 268.00 L356.00 269.00 L355.00 269.00 L355.00 271.00 L353.00 271.00 L353.00 272.00 L352.00 272.00 L352.00 271.00 L350.00 271.00 L350.00 269.00 L349.00 269.00 Z M357.00 260.00 L358.00 260.00 L358.00 258.00 L360.00 258.00 L360.00 257.00 L361.00 257.00 L361.00 258.00 L363.00 258.00 L363.00 260.00 L364.00 260.00 L364.00 261.00 L363.00 261.00 L363.00 263.00 L361.00 263.00 L361.00 264.00 L360.00 264.00 L360.00 263.00 L358.00 263.00 L358.00 261.00 L357.00 261.00 Z M365.00 256.00 L366.00 256.00 L366.00 254.00 L368.00 254.00 L368.00 253.00 L369.00 253.00 L369.00 254.00 L371.00 254.00 L371.00 256.00 L372.00 256.00 L372.00 257.00 L371.00 257.00 L371.00 259.00 L369.00 259.00 L369.00 260.00 L368.00 260.00 L368.00 259.00 L366.00 259.00 L366.00 257.00 L365.00 257.00 Z M374.00 256.00 L375.00 256.00 L375.00 254.00 L377.00 254.00 L377.00 253.00 L378.00 253.00 L378.00 254.00 L380.00 254.00 L380.00 256.00 L381.00 256.00 L381.00 257.00 L380.00 257.00 L380.00 259.00 L378.00 259.00 L378.00 260.00 L377.00 260.00 L377.00 259.00 L375.00 259.00 L375.00 257.00 L374.00 257.00 Z M382.00 260.00 L383.00 260.00 L383.00 258.00 L385.00 258.00 L385.00 257.00 L386.00 257.00 L386.00 258.00 L388.00 258.00 L388.00 260.00 L389.00 260.00 L389.00 261.00 L388.00 261.00 L388.00 263.00 L386.00 263.00 L386.00 264.00 L385.00 264.00 L385.00 263.00 L383.00 263.00 L383.00 261.00 L382.00 261.00 Z M390.00 256.00 L391.00 256.00 L391.00 254.00 L393.00 254.00 L393.00 253.00 L394.00 253.00 L394.00 254.00 L396.00 254.00 L396.00 256.00 L397.00 256.00 L397.00 257.00 L396.00 257.00 L396.00 259.00 L394.00 259.00 L394.00 260.00 L393.00 260.00 L393.00 259.00 L391.00 259.00 L391.00 257.00 L390.00 257.00 Z M399.00 256.00 L400.00 256.00 L400.00 254.00 L402.00 254.00 L402.00 253.00 L403.00 253.00 L403.00 254.00 L405.00 254.00 L405.00 256.00 L406.00 256.00 L406.00 257.00 L405.00 257.00 L405.00 259.00 L403.00 259.00 L403.00 260.00 L402.00 260.00 L402.00 259.00 L400.00 259.00 L400.00 257.00 L399.00 257.00 Z M407.00 252.00 L408.00 252.00 L408.00 250.00 L410.00 250.00 L410.00 249.00 L411.00 249.00 L411.00 250.00 L413.00 250.00 L413.00 252.00 L414.00 252.00 L414.00 253.00 L413.00 253.00 L413.00 255.00 L411.00 255.00 L411.00 256.00 L410.00 256.00 L410.00 255.00 L408.00 255.00 L408.00 253.00 L407.00 253.00 Z M416.00 248.00 L417.00 248.00 L417.00 246.00 L419.00 246.00 L419.00 245.00 L420.00 245.00 L420.00 246.00 L422.00 246.00 L422.00 248.00 L423.00 248.00 L423.00 249.00 L422.00 249.00 L422.00 251.00 L420.00 251.00 L420.00 252.00 L419.00 252.00 L419.00 251.00 L417.00 251.00 L417.00 249.00 L416.00 249.00 Z M424.00 252.00 L425.00 252.00 L425.00 250.00 L427.00 250.00 L427.00 249.00 L428.00 249.00 L428.00 250.00 L430.00 250.00 L430.00 252.00 L431.00 252.00 L431.00 253.00 L430.00 253.00 L430.00 255.00 L428.00 255.00 L428.00 256.00 L427.00 256.00 L427.00 255.00 L425.00 255.00 L425.00 253.00 L424.00 253.00 Z M432.00 252.00 L433.00 252.00 L433.00 250.00 L435.00 250.00 L435.00 249.00 L436.00 249.00 L436.00 250.00 L438.00 250.00 L438.00 252.00 L439.00 252.00 L439.00 253.00 L438.00 253.00 L438.00 255.00 L436.00 255.00 L436.00 256.00 L435.00 256.00 L435.00 255.00 L433.00 255.00 L433.00 253.00 L432.00 253.00 Z M441.00 248.00 L442.00 248.00 L442.00 246.00 L444.00 246.00 L444.00 245.00 L445.00 245.00 L445.00 246.00 L447.00 246.00 L447.00 248.00 L448.00 248.00 L448.00 249.00 L447.00 249.00 L447.00 251.00 L445.00 251.00 L445.00 252.00 L444.00 252.00 L444.00 251.00 L442.00 251.00 L442.00 249.00 L441.00 249.00 Z M449.00 248.00 L450.00 248.00 L450.00 246.00 L452.00 246.00 L452.00 245.00 L453.00 245.00 L453.00 246.00 L455.00 246.00 L455.00 248.00 L456.00 248.00 L456.00 249.00 L455.00 249.00 L455.00 251.00 L453.00 251.00 L453.00 252.00 L452.00 252.00 L452.00 251.00 L450.00 251.00 L450.00 249.00 L449.00 249.00 Z M457.00 244.00 L458.00 244.00 L458.00 242.00 L460.00 242.00 L460.00 241.00 L461.00 241.00 L461.00 242.00 L463.00 242.00 L463.00 244.00 L464.00 244.00 L464.00 245.00 L463.00 245.00 L463.00 247.00 L461.00 247.00 L461.00 248.00 L460.00 248.00 L460.00 247.00 L458.00 247.00 L458.00 245.00 L457.00 245.00 Z M466.00 240.00 L467.00 240.00 L467.00 238.00 L469.00 238.00 L469.00 237.00 L470.00 237.00 L470.00 238.00 L472.00 238.00 L472.00 240.00 L473.00 240.00 L473.00 241.00 L472.00 241.00 L472.00 243.00 L470.00 243.00 L470.00 244.00 L469.00 244.00 L469.00 243.00 L467.00 243.00 L467.00 241.00 L466.00 241.00 Z M474.00 244.00 L475.00 244.00 L475.00 242.00 L477.00 242.00 L477.00 241.00 L478.00 241.00 L478.00 242.00 L480.00 242.00 L480.00 244.00 L481.00 244.00 L481.00 245.00 L480.00 245.00 L480.00 247.00 L478.00 247.00 L478.00 248.00 L477.00 248.00 L477.00 247.00 L475.00 247.00 L475.00 245.00 L474.00 245.00 Z M482.00 240.00 L483.00 240.00 L483.00 238.00 L485.00 238.00 L485.00 237.00 L486.00 237.00 L486.00 238.00 L488.00 238.00 L488.00 240.00 L489.00 240.00 L489.00 241.00 L488.00 241.00 L488.00 243.00 L486.00 243.00 L486.00 244.00 L485.00 244.00 L485.00 243.00 L483.00 243.00 L483.00 241.00 L482.00 241.00 Z M491.00 244.00 L492.00 244.00 L492.00 242.00 L494.00 242.00 L494.00 241.00 L495.00 241.00 L495.00 242.00 L497.00 242.00 L497.00 244.00 L498.00 244.00 L498.00 245.00 L497.00 245.00 L497.00 247.00 L495.00 247.00 L495.00 248.00 L494.00 248.00 L494.00 247.00 L492.00 247.00 L492.00 245.00 L491.00 245.00 Z M499.00 240.00 L500.00 240.00 L500.00 238.00 L502.00 238.00 L502.00 237.00 L503.00 237.00 L503.00 238.00 L505.00 238.00 L505.00 240.00 L506.00 240.00 L506.00 241.00 L505.00 241.00 L505.00 243.00 L503.00 243.00 L503.00 244.00 L502.00 244.00 L502.00 243.00 L500.00 243.00 L500.00 241.00 L499.00 241.00 Z M507.00 236.00 L508.00 236.00 L508.00 234.00 L510.00 234.00 L510.00 233.00 L511.00 233.00 L511.00 234.00 L513.00 234.00 L513.00 236.00 L514.00 236.00 L514.00 237.00 L513.00 237.00 L513.00 239.00 L511.00 239.00 L511.00 240.00 L510.00 240.00 L510.00 239.00 L508.00 239.00 L508.00 237.00 L507.00 237.00 Z M516.00 236.00 L517.00 236.00 L517.00 234.00 L519.00 234.00 L519.00 233.00 L520.00 233.00 L520.00 234.00 L522.00 234.00 L522.00 236.00 L523.00 236.00 L523.00 237.00 L522.00 237.00 L522.00 239.00 L520.00 239.00 L520.00 240.00 L519.00 240.00 L519.00 239.00 L517.00 239.00 L517.00 237.00 L516.00 237.00 Z M524.00 240.00 L525.00 240.00 L525.00 238.00 L527.00 238.00 L527.00 237.00 L528.00 237.00 L528.00 238.00 L530.00 238.00 L530.00 240.00 L531.00 240.00 L531.00 241.00 L530.00 241.00 L530.00 243.00 L528.00 243.00 L528.00 244.00 L527.00 244.00 L527.00 243.00 L525.00 243.00 L525.00 241.00 L524.00 241.00 Z M533.00 240.00 L534.00 240.00 L534.00 238.00 L536.00 238.00 L536.00 237.00 L537.00 237.00 L537.00 238.00 L539.00 238.00 L539.00 240.00 L540.00 240.00 L540.00 241.00 L539.00 241.00 L539.00 243.00 L537.00 243.00 L537.00 244.00 L536.00 244.00 L536.00 243.00 L534.00 243.00 L534.00 241.00 L533.00 241.00 Z M541.00 240.00 L542.00 240.00 L542.00 238.00 L544.00 238.00 L544.00 237.00 L545.00 237.00 L545.00 238.00 L547.00 238.00 L547.00 240.00 L548.00 240.00 L548.00 241.00 L547.00 241.00 L547.00 243.00 L545.00 243.00 L545.00 244.00 L544.00 244.00 L544.00 243.00 L542.00 243.00 L542.00 241.00 L541.00 241.00 Z M549.00 244.00 L550.00 244.00 L550.00 242.00 L552.00 242.00 L552.00 241.00 L553.00 241.00 L553.00 242.00 L555.00 242.00 L555.00 244.00 L556.00 244.00 L556.00 245.00 L555.00 245.00 L555.00 247.00 L553.00 247.00 L553.00 248.00 L552.00 248.00 L552.00 247.00 L550.00 247.00 L550.00 245.00 L549.00 245.00 Z M558.00 240.00 L559.00 240.00 L559.00 238.00 L561.00 238.00 L561.00 237.00 L562.00 237.00 L562.00 238.00 L564.00 238.00 L564.00 240.00 L565.00 240.00 L565.00 241.00 L564.00 241.00 L564.00 243.00 L562.00 243.00 L562.00 244.00 L561.00 244.00 L561.00 243.00 L559.00 243.00 L559.00 241.00 L558.00 241.00 Z M566.00 244.00 L567.00 244.00 L567.00 242.00 L569.00 242.00 L569.00 241.00 L570.00 241.00 L570.00 242.00 L572.00 242.00 L572.00 244.00 L573.00 244.00 L573.00 245.00 L572.00 245.00 L572.00 247.00 L570.00 247.00 L570.00 248.00 L569.00 248.00 L569.00 247.00 L567.00 247.00 L567.00 245.00 L566.00 245.00 Z M574.00 240.00 L575.00 240.00 L575.00 238.00 L577.00 238.00 L577.00 237.00 L578.00 237.00 L578.00 238.00 L580.00 238.00 L580.00 240.00 L581.00 240.00 L581.00 241.00 L580.00 241.00 L580.00 243.00 L578.00 243.00 L578.00 244.00 L577.00 244.00 L577.00 243.00 L575.00 243.00 L575.00 241.00 L574.00 241.00 Z M583.00 236.00 L584.00 236.00 L584.00 234.00 L586.00 234.00 L586.00 233.00 L587.00 233.00 L587.00 234.00 L589.00 234.00 L589.00 236.00 L590.00 236.00 L590.00 237.00 L589.00 237.00 L589.00 239.00 L587.00 239.00 L587.00 240.00 L586.00 240.00 L586.00 239.00 L584.00 239.00 L584.00 237.00 L583.00 237.00 Z M591.00 236.00 L592.00 236.00 L592.00 234.00 L594.00 234.00 L594.00 233.00 L595.00 233.00 L595.00 234.00 L597.00 234.00 L597.00 236.00 L598.00 236.00 L598.00 237.00 L597.00 237.00 L597.00 239.00 L595.00 239.00 L595.00 240.00 L594.00 240.00 L594.00 239.00 L592.00 239.00 L592.00 237.00 L591.00 237.00 Z M599.00 236.00 L600.00 236.00 L600.00 234.00 L602.00 234.00 L602.00 233.00 L603.00 233.00 L603.00 234.00 L605.00 234.00 L605.00 236.00 L606.00 236.00 L606.00 237.00 L605.00 237.00 L605.00 239.00 L603.00 239.00 L603.00 240.00 L602.00 240.00 L602.00 239.00 L600.00 239.00 L600.00 237.00 L599.00 237.00 Z M608.00 236.00 L609.00 236.00 L609.00 234.00 L611.00 234.00 L611.00 233.00 L612.00 233.00 L612.00 234.00 L614.00 234.00 L614.00 236.00 L615.00 236.00 L615.00 237.00 L614.00 237.00 L614.00 239.00 L612.00 239.00 L612.00 240.00 L611.00 240.00 L611.00 239.00 L609.00 239.00 L609.00 237.00 L608.00 237.00 Z M616.00 232.00 L617.00 232.00 L617.00 230.00 L619.00 230.00 L619.00 229.00 L620.00 229.00 L620.00 230.00 L622.00 230.00 L622.00 232.00 L623.00 232.00 L623.00 233.00 L622.00 233.00 L622.00 235.00 L620.00 235.00 L620.00 236.00 L619.00 236.00 L619.00 235.00 L617.00 235.00 L617.00 233.00 L616.00 233.00 Z M624.00 236.00 L625.00 236.00 L625.00 234.00 L627.00 234.00 L627.00 233.00 L628.00 233.00 L628.00 234.00 L630.00 234.00 L630.00 236.00 L631.00 236.00 L631.00 237.00 L630.00 237.00 L630.00 239.00 L628.00 239.00 L628.00 240.00 L627.00 240.00 L627.00 239.00 L625.00 239.00 L625.00 237.00 L624.00 237.00 Z M633.00 236.00 L634.00 236.00 L634.00 234.00 L636.00 234.00 L636.00 233.00 L637.00 233.00 L637.00 234.00 L639.00 234.00 L639.00 236.00 L640.00 236.00 L640.00 237.00 L639.00 237.00 L639.00 239.00 L637.00 239.00 L637.00 240.00 L636.00 240.00 L636.00 239.00 L634.00 239.00 L634.00 237.00 L633.00 237.00 Z M641.00 236.00 L642.00 236.00 L642.00 234.00 L644.00 234.00 L644.00 233.00 L645.00 233.00 L645.00 234.00 L647.00 234.00 L647.00 236.00 L648.00 236.00 L648.00 237.00 L647.00 237.00 L647.00 239.00 L645.00 239.00 L645.00 240.00 L644.00 240.00 L644.00 239.00 L642.00 239.00 L642.00 237.00 L641.00 237.00 Z M650.00 236.00 L651.00 236.00 L651.00 234.00 L653.00 234.00 L653.00 233.00 L654.00 233.00 L654.00 234.00 L656.00 234.00 L656.00 236.00 L657.00 236.00 L657.00 237.00 L656.00 237.00 L656.00 239.00 L654.00 239.00 L654.00 240.00 L653.00 240.00 L653.00 239.00 L651.00 239.00 L651.00 237.00 L650.00 237.00 Z M658.00 232.00 L659.00 232.00 L659.00 230.00 L661.00 230.00 L661.00 229.00 L662.00 229.00 L662.00 230.00 L664.00 230.00 L664.00 232.00 L665.00 232.00 L665.00 233.00 L664.00 233.00 L664.00 235.00 L662.00 235.00 L662.00 236.00 L661.00 236.00 L661.00 235.00 L659.00 235.00 L659.00 233.00 L658.00 233.00 Z M666.00 228.00 L667.00 228.00 L667.00 226.00 L669.00 226.00 L669.00 225.00 L670.00 225.00 L670.00 226.00 L672.00 226.00 L672.00 228.00 L673.00 228.00 L673.00 229.00 L672.00 229.00 L672.00 231.00 L670.00 231.00 L670.00 232.00 L669.00 232.00 L669.00 231.00 L667.00 231.00 L667.00 229.00 L666.00 229.00 Z M675.00 228.00 L676.00 228.00 L676.00 226.00 L678.00 226.00 L678.00 225.00 L679.00 225.00 L679.00 226.00 L681.00 226.00 L681.00 228.00 L682.00 228.00 L682.00 229.00 L681.00 229.00 L681.00 231.00 L679.00 231.00 L679.00 232.00 L678.00 232.00 L678.00 231.00 L676.00 231.00 L676.00 229.00 L675.00 229.00 Z M683.00 228.00 L684.00 228.00 L684.00 226.00 L686.00 226.00 L686.00 225.00 L687.00 225.00 L687.00 226.00 L689.00 226.00 L689.00 228.00 L690.00 228.00 L690.00 229.00 L689.00 229.00 L689.00 231.00 L687.00 231.00 L687.00 232.00 L686.00 232.00 L686.00 231.00 L684.00 231.00 L684.00 229.00 L683.00 229.00 Z M691.00 228.00 L692.00 228.00 L692.00 226.00 L694.00 226.00 L694.00 225.00 L695.00 225.00 L695.00 226.00 L697.00 226.00 L697.00 228.00 L698.00 228.00 L698.00 229.00 L697.00 229.00 L697.00 231.00 L695.00 231.00 L695.00 232.00 L694.00 232.00 L694.00 231.00 L692.00 231.00 L692.00 229.00 L691.00 229.00 Z M700.00 228.00 L701.00 228.00 L701.00 226.00 L703.00 226.00 L703.00 225.00 L704.00 225.00 L704.00 226.00 L706.00 226.00 L706.00 228.00 L707.00 228.00 L707.00 229.00 L706.00 229.00 L706.00 231.00 L704.00 231.00 L704.00 232.00 L703.00 232.00 L703.00 231.00 L701.00 231.00 L701.00 229.00 L700.00 229.00 Z M708.00 228.00 L709.00 228.00 L709.00 226.00 L711.00 226.00 L711.00 225.00 L712.00 225.00 L712.00 226.00 L714.00 226.00 L714.00 228.00 L715.00 228.00 L715.00 229.00 L714.00 229.00 L714.00 231.00 L712.00 231.00 L712.00 232.00 L711.00 232.00 L711.00 231.00 L709.00 231.00 L709.00 229.00 L708.00 229.00 Z M716.00 228.00 L717.00 228.00 L717.00 226.00 L719.00 226.00 L719.00 225.00 L720.00 225.00 L720.00 226.00 L722.00 226.00 L722.00 228.00 L723.00 228.00 L723.00 229.00 L722.00 229.00 L722.00 231.00 L720.00 231.00 L720.00 232.00 L719.00 232.00 L719.00 231.00 L717.00 231.00 L717.00 229.00 L716.00 229.00 Z M725.00 232.00 L726.00 232.00 L726.00 230.00 L728.00 230.00 L728.00 229.00 L729.00 229.00 L729.00 230.00 L731.00 230.00 L731.00 232.00 L732.00 232.00 L732.00 233.00 L731.00 233.00 L731.00 235.00 L729.00 235.00 L729.00 236.00 L728.00 236.00 L728.00 235.00 L726.00 235.00 L726.00 233.00 L725.00 233.00 Z M733.00 232.00 L734.00 232.00 L734.00 230.00 L736.00 230.00 L736.00 229.00 L737.00 229.00 L737.00 230.00 L739.00 230.00 L739.00 232.00 L740.00 232.00 L740.00 233.00 L739.00 233.00 L739.00 235.00 L737.00 235.00 L737.00 236.00 L736.00 236.00 L736.00 235.00 L734.00 235.00 L734.00 233.00 L733.00 233.00 Z M741.00 232.00 L742.00 232.00 L742.00 230.00 L744.00 230.00 L744.00 229.00 L745.00 229.00 L745.00 230.00 L747.00 230.00 L747.00 232.00 L748.00 232.00 L748.00 233.00 L747.00 233.00 L747.00 235.00 L745.00 235.00 L745.00 236.00 L744.00 236.00 L744.00 235.00 L742.00 235.00 L742.00 233.00 L741.00 233.00 Z M750.00 236.00 L751.00 236.00 L751.00 234.00 L753.00 234.00 L753.00 233.00 L754.00 233.00 L754.00 234.00 L756.00 234.00 L756.00 236.00 L757.00 236.00 L757.00 237.00 L756.00 237.00 L756.00 239.00 L754.00 239.00 L754.00 240.00 L753.00 240.00 L753.00 239.00 L751.00 239.00 L751.00 237.00 L750.00 237.00 Z M758.00 236.00 L759.00 236.00 L759.00 234.00 L761.00 234.00 L761.00 233.00 L762.00 233.00 L762.00 234.00 L764.00 234.00 L764.00 236.00 L765.00 236.00 L765.00 237.00 L764.00 237.00 L764.00 239.00 L762.00 239.00 L762.00 240.00 L761.00 240.00 L761.00 239.00 L759.00 239.00 L759.00 237.00 L758.00 237.00 Z M767.00 236.00 L768.00 236.00 L768.00 234.00 L770.00 234.00 L770.00 233.00 L771.00 233.00 L771.00 234.00 L773.00 234.00 L773.00 236.00 L774.00 236.00 L774.00 237.00 L773.00 237.00 L773.00 239.00 L771.00 239.00 L771.00 240.00 L770.00 240.00 L770.00 239.00 L768.00 239.00 L768.00 237.00 L767.00 237.00 Z M775.00 232.00 L776.00 232.00 L776.00 230.00 L778.00 230.00 L778.00 229.00 L779.00 229.00 L779.00 230.00 L781.00 230.00 L781.00 232.00 L782.00 232.00 L782.00 233.00 L781.00 233.00 L781.00 235.00 L779.00 235.00 L779.00 236.00 L778.00 236.00 L778.00 235.00 L776.00 235.00 L776.00 233.00 L775.00 233.00 Z M783.00 228.00 L784.00 228.00 L784.00 226.00 L786.00 226.00 L786.00 225.00 L787.00 225.00 L787.00 226.00 L789.00 226.00 L789.00 228.00 L790.00 228.00 L790.00 229.00 L789.00 229.00 L789.00 231.00 L787.00 231.00 L787.00 232.00 L786.00 232.00 L786.00 231.00 L784.00 231.00 L784.00 229.00 L783.00 229.00 Z M792.00 228.00 L793.00 228.00 L793.00 226.00 L795.00 226.00 L795.00 225.00 L796.00 225.00 L796.00 226.00 L798.00 226.00 L798.00 228.00 L799.00 228.00 L799.00 229.00 L798.00 229.00 L798.00 231.00 L796.00 231.00 L796.00 232.00 L795.00 232.00 L795.00 231.00 L793.00 231.00 L793.00 229.00 L792.00 229.00 Z M800.00 228.00 L801.00 228.00 L801.00 226.00 L803.00 226.00 L803.00 225.00 L804.00 225.00 L804.00 226.00 L806.00 226.00 L806.00 228.00 L807.00 228.00 L807.00 229.00 L806.00 229.00 L806.00 231.00 L804.00 231.00 L804.00 232.00 L803.00 232.00 L803.00 231.00 L801.00 231.00 L801.00 229.00 L800.00 229.00 Z" fill="#fdb850"/>
<text x="34.5" y="122.9" font-size="11" fill="#4f81bd" text-anchor="middle">75</text><text x="51.2" y="202.7" font-size="11" fill="#4f81bd" text-anchor="middle">55</text><text x="76.3" y="186.7" font-size="11" fill="#4f81bd" text-anchor="middle">59</text><text x="101.4" y="154.8" font-size="11" fill="#4f81bd" text-anchor="middle">67</text><text x="126.4" y="178.8" font-size="11" fill="#4f81bd" text-anchor="middle">61</text><text x="151.5" y="162.8" font-size="11" fill="#4f81bd" text-anchor="middle">65</text><text x="176.6" y="178.8" font-size="11" fill="#4f81bd" text-anchor="middle">61</text><text x="201.7" y="186.7" font-size="11" fill="#4f81bd" text-anchor="middle">59</text><text x="226.8" y="202.7" font-size="11" fill="#4f81bd" text-anchor="middle">55</text><text x="251.8" y="202.7" font-size="11" fill="#4f81bd" text-anchor="middle">55</text><text x="276.9" y="202.7" font-size="11" fill="#4f81bd" text-anchor="middle">55</text><text x="302.0" y="202.7" font-size="11" fill="#4f81bd" text-anchor="middle">55</text><text x="327.1" y="190.7" font-size="11" fill="#4f81bd" text-anchor="middle">58</text><text x="352.1" y="186.7" font-size="11" fill="#4f81bd" text-anchor="middle">59</text><text x="377.2" y="198.7" font-size="11" fill="#4f81bd" text-anchor="middle">56</text><text x="402.3" y="198.7" font-size="11" fill="#4f81bd" text-anchor="middle">56</text><text x="427.4" y="202.7" font-size="11" fill="#4f81bd" text-anchor="middle">55</text><text x="452.4" y="206.7" font-size="11" fill="#4f81bd" text-anchor="middle">54</text><text x="477.5" y="210.7" font-size="11" fill="#4f81bd" text-anchor="middle">53</text><text x="552.7" y="210.7" font-size="11" fill="#4f81bd" text-anchor="middle">53</text><text x="34.5" y="322.3" font-size="11" fill="#fdb850" text-anchor="middle">25</text><text x="42.9" y="230.6" font-size="11" fill="#fdb850" text-anchor="middle">48</text><text x="67.9" y="246.6" font-size="11" fill="#fdb850" text-anchor="middle">44</text><text x="93.0" y="266.5" font-size="11" fill="#fdb850" text-anchor="middle">39</text><text x="101.4" y="290.4" font-size="11" fill="#fdb850" text-anchor="middle">33</text><text x="126.4" y="266.5" font-size="11" fill="#fdb850" text-anchor="middle">39</text><text x="151.5" y="282.4" font-size="11" fill="#fdb850" text-anchor="middle">35</text><text x="176.6" y="266.5" font-size="11" fill="#fdb850" text-anchor="middle">39</text><text x="201.7" y="258.5" font-size="11" fill="#fdb850" text-anchor="middle">41</text><text x="226.8" y="242.6" font-size="11" fill="#fdb850" text-anchor="middle">45</text><text x="251.8" y="242.6" font-size="11" fill="#fdb850" text-anchor="middle">45</text><text x="276.9" y="242.6" font-size="11" fill="#fdb850" text-anchor="middle">45</text><text x="302.0" y="242.6" font-size="11" fill="#fdb850" text-anchor="middle">45</text><text x="327.1" y="254.5" font-size="11" fill="#fdb850" text-anchor="middle">42</text><text x="352.1" y="258.5" font-size="11" fill="#fdb850" text-anchor="middle">41</text><text x="377.2" y="246.6" font-size="11" fill="#fdb850" text-anchor="middle">44</text><text x="402.3" y="246.6" font-size="11" fill="#fdb850" text-anchor="middle">44</text><text x="427.4" y="242.6" font-size="11" fill="#fdb850" text-anchor="middle">45</text><text x="452.4" y="238.6" font-size="11" fill="#fdb850" text-anchor="middle">46</text><text x="477.5" y="234.6" font-size="11" fill="#fdb850" text-anchor="middle">47</text><text x="502.6" y="230.6" font-size="11" fill="#fdb850" text-anchor="middle">48</text><text x="527.7" y="230.6" font-size="11" fill="#fdb850" text-anchor="middle">48</text><text x="552.7" y="234.6" font-size="11" fill="#fdb850" text-anchor="middle">47</text><text x="577.8" y="230.6" font-size="11" fill="#fdb850" text-anchor="middle">48</text><text x="602.9" y="226.6" font-size="11" fill="#fdb850" text-anchor="middle">49</text><text x="628.0" y="226.6" font-size="11" fill="#fdb850" text-anchor="middle">49</text><text x="653.0" y="226.6" font-size="11" fill="#fdb850" text-anchor="middle">49</text><text x="678.1" y="218.6" font-size="11" fill="#fdb850" text-anchor="middle">51</text><text x="703.2" y="218.6" font-size="11" fill="#fdb850" text-anchor="middle">51</text><text x="728.3" y="222.6" font-size="11" fill="#fdb850" text-anchor="middle">50</text><text x="753.3" y="226.6" font-size="11" fill="#fdb850" text-anchor="middle">49</text><text x="778.4" y="222.6" font-size="11" fill="#fdb850" text-anchor="middle">50</text><text x="803.5" y="218.6" font-size="11" fill="#fdb850" text-anchor="middle">51</text>
</svg></body></html>
